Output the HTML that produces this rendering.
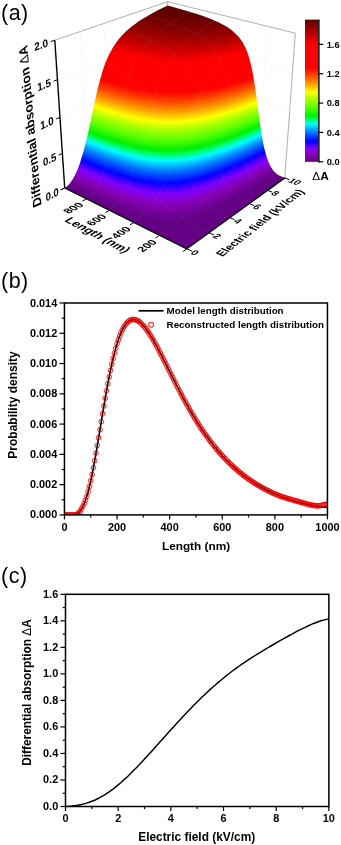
<!DOCTYPE html>
<html><head><meta charset="utf-8"><title>Figure</title>
<style>html,body{margin:0;padding:0;background:#fff;}body{width:341px;height:845px;overflow:hidden;}svg{display:block;}svg text{font-family:"Liberation Sans",Arial,sans-serif;}</style>
</head><body>
<svg width="341" height="845" viewBox="0 0 341 845">
<rect width="341" height="845" fill="#fff"/>
<text x="1.0" y="20.1" font-size="21.5" letter-spacing="0.5" >(a)</text>
<text x="1.0" y="288.2" font-size="21.5" letter-spacing="0.5" >(b)</text>
<text x="1.0" y="583.0" font-size="21.5" letter-spacing="0.5" >(c)</text>
<path d="M54.8 40.2L167.7 1.7" stroke="#8c8c8c" stroke-width="0.7" fill="none"/>
<path d="M167.7 1.7L295.3 33.2" stroke="#8c8c8c" stroke-width="0.7" fill="none"/>
<path d="M295.3 33.2L284.8 177.9" stroke="#8c8c8c" stroke-width="0.7" fill="none"/>
<path d="M167.7 1.7L167.7 15.7" stroke="#8c8c8c" stroke-width="0.7" fill="none"/>
<path d="M62.4 153.4L167.8 101.9L287.2 144.1M60.0 117.3L167.8 69.8L289.8 108.7M57.4 79.7L167.7 36.4L292.5 71.8M87.7 175.5L80.3 31.5M259.1 168.0L267.1 26.3M109.5 163.9L104.1 23.4M234.7 158.6L240.3 19.7M130.0 153.0L126.6 15.7M211.4 149.6L214.9 13.4M149.4 142.6L147.7 8.5M189.1 141.0L190.7 7.4" stroke="#f3f3f3" stroke-width="0.6" fill="none"/>
<defs><mask id="smask" maskUnits="userSpaceOnUse" x="0" y="0" width="341" height="280"><path d="M186.9 248.8 L64.7 187.8 66.2 186.9 67.6 185.7 69.1 184.2 70.5 182.4 71.9 180.5 73.3 178.2 74.7 175.7 76.0 173.0 77.4 169.9 78.7 166.6 80.0 163.0 81.2 159.1 83.8 150.5 86.2 140.8 88.7 130.2 95.9 96.4 98.4 86.0 99.7 81.1 102.2 72.2 103.5 68.2 104.8 64.5 106.2 61.1 107.5 58.0 108.8 55.0 110.2 52.4 112.9 47.6 115.6 43.4 118.3 39.8 119.7 38.1 122.4 35.1 126.4 31.1 130.5 27.6 133.1 25.5 135.8 23.5 138.4 21.6 142.4 19.1 146.3 16.7 150.1 14.4 157.8 10.3 167.7 5.5 183.6 10.0 191.0 12.2 197.0 14.1 203.0 16.1 207.6 17.8 212.2 19.6 215.3 20.9 218.5 22.3 221.6 23.9 224.7 25.6 227.9 27.6 231.1 29.8 232.7 31.0 235.8 33.9 237.4 35.5 239.0 37.3 240.5 39.3 242.1 41.6 243.6 44.2 245.2 47.2 246.7 50.7 248.2 54.7 249.6 59.4 251.0 64.9 252.4 71.3 253.7 78.5 255.0 86.5 256.2 95.2 259.7 121.9 260.9 130.1 262.2 137.6 263.4 144.2 264.7 150.1 266.1 155.1 267.5 159.4 268.9 163.1 270.4 166.1 271.9 168.6 273.4 170.7 275.0 172.4 276.6 173.7 278.2 174.9 279.8 175.8 281.5 176.6 284.8 177.9Z" fill="#fff"/></mask></defs><g mask="url(#smask)">
<rect x="40" y="-10" width="270" height="270" fill="#630083"/>
<path d="M275.8 173.1 L255.3 185.9 238.6 195.7 225.3 202.9 217.5 206.9 211.8 209.6 202.4 213.5 195.5 216.0 191.9 217.1 188.1 218.1 184.3 218.9 180.3 219.6 176.3 220.1 172.3 220.3 168.3 220.4 164.2 220.2 160.2 219.8 156.3 219.2 152.5 218.4 145.2 216.6 135.1 213.4 123.2 208.8 110.6 203.4 93.0 195.3 69.2 184.0 29.2 184.0 29.2 -30.0 315.8 -30.0 315.8 173.1Z" fill="#6b008f"/>
<path d="M273.7 170.9 L255.8 181.6 240.4 190.4 232.5 194.6 225.9 198.0 218.4 201.6 213.0 204.0 207.2 206.4 201.0 208.8 194.3 210.9 190.8 211.9 183.5 213.5 179.8 214.1 176.0 214.6 172.1 214.9 168.2 215.0 164.4 214.9 160.5 214.6 153.1 213.7 149.5 213.0 142.6 211.3 133.0 208.4 121.8 204.2 107.6 198.4 91.4 191.1 71.1 181.6 31.1 181.6 31.1 -30.0 313.7 -30.0 313.7 170.9Z" fill="#73009b"/>
<path d="M272.2 169.0 L254.4 179.4 239.0 187.8 231.2 191.9 224.6 195.1 217.3 198.5 211.9 200.7 206.2 203.0 200.1 205.2 193.6 207.2 190.2 208.1 183.1 209.6 179.4 210.1 172.0 210.9 168.2 211.0 164.5 210.9 160.8 210.7 153.5 209.9 150.0 209.3 143.2 207.8 133.8 205.2 122.7 201.3 108.7 195.7 92.6 188.7 72.5 179.5 32.5 179.5 32.5 -30.0 312.2 -30.0 312.2 169.0Z" fill="#7b00a7"/>
<path d="M271.0 167.2 L254.5 176.7 239.8 184.6 225.9 191.5 213.8 196.8 208.3 199.0 202.5 201.1 193.0 204.0 186.2 205.6 182.7 206.2 175.5 207.2 171.9 207.5 164.6 207.6 160.9 207.4 153.8 206.7 150.3 206.2 143.7 204.8 134.4 202.3 123.4 198.7 109.6 193.3 93.7 186.5 73.7 177.5 33.7 177.5 33.7 -30.0 311.0 -30.0 311.0 167.2Z" fill="#8300b3"/>
<path d="M270.1 165.5 L253.6 174.8 238.9 182.5 225.1 189.2 213.1 194.3 207.7 196.4 201.9 198.4 192.5 201.1 185.9 202.6 182.4 203.2 175.4 204.2 171.8 204.4 164.6 204.6 161.0 204.4 154.0 203.8 150.6 203.3 144.1 202.0 137.9 200.5 132.1 198.8 121.5 195.3 108.3 190.2 93.1 183.7 74.8 175.5 34.8 175.5 34.8 -30.0 310.1 -30.0 310.1 165.5Z" fill="#8600c1"/>
<path d="M269.3 163.8 L252.8 172.9 238.1 180.5 224.4 187.0 212.4 192.0 207.1 193.9 201.4 195.9 192.1 198.5 185.6 199.9 182.2 200.5 175.2 201.4 171.7 201.6 164.7 201.8 161.2 201.7 154.3 201.1 150.9 200.6 144.4 199.4 138.3 198.0 132.5 196.4 122.1 193.0 109.0 188.0 93.9 181.7 75.7 173.6 35.7 173.6 35.7 -30.0 309.3 -30.0 309.3 163.8Z" fill="#8500d2"/>
<path d="M268.6 162.2 L252.1 171.2 237.5 178.6 223.8 184.9 211.9 189.7 206.6 191.6 200.9 193.5 191.8 196.0 185.3 197.4 182.0 197.9 175.1 198.8 171.7 199.0 164.7 199.2 161.2 199.1 154.4 198.5 151.1 198.1 144.7 196.9 138.7 195.6 133.0 194.0 122.6 190.8 109.6 185.9 94.6 179.8 76.5 171.8 36.5 171.8 36.5 -30.0 308.6 -30.0 308.6 162.2Z" fill="#8300e2"/>
<path d="M267.9 160.6 L251.5 169.4 236.9 176.7 229.5 180.2 223.3 182.9 211.4 187.6 206.2 189.4 200.6 191.2 191.5 193.6 185.1 194.9 181.8 195.5 175.0 196.3 171.6 196.5 164.7 196.7 161.3 196.6 154.6 196.1 151.3 195.6 145.0 194.6 139.0 193.3 133.4 191.8 123.1 188.6 110.2 183.9 95.3 177.8 77.3 170.0 37.3 170.0 37.3 -30.0 307.9 -30.0 307.9 160.6Z" fill="#8100f3"/>
<path d="M267.4 159.0 L252.2 167.1 238.0 174.1 224.9 180.0 213.5 184.6 203.0 188.2 197.3 189.8 191.2 191.4 184.9 192.6 181.6 193.2 174.9 193.9 171.6 194.2 164.8 194.3 161.4 194.2 154.8 193.7 151.5 193.3 145.3 192.3 139.3 191.0 133.7 189.6 123.6 186.5 110.7 181.9 95.9 175.9 78.0 168.3 38.0 168.3 38.0 -30.0 307.4 -30.0 307.4 159.0Z" fill="#7900ff"/>
<path d="M266.8 157.5 L251.6 165.5 237.5 172.3 224.5 178.1 213.1 182.6 202.7 186.1 197.0 187.7 191.0 189.2 184.7 190.4 181.5 190.9 174.9 191.6 171.5 191.9 164.8 192.0 161.5 191.9 154.9 191.4 151.7 191.1 145.5 190.1 139.6 188.8 134.1 187.4 124.0 184.4 111.2 179.9 96.5 174.1 78.7 166.5 38.7 166.5 38.7 -30.0 306.8 -30.0 306.8 157.5Z" fill="#5e00ff"/>
<path d="M266.3 156.0 L251.2 163.8 237.1 170.6 224.0 176.3 212.7 180.6 202.4 184.0 196.7 185.6 190.8 187.0 184.5 188.2 181.3 188.7 174.8 189.4 171.5 189.6 168.2 189.8 161.5 189.7 158.3 189.5 151.9 188.9 142.8 187.3 134.4 185.4 124.4 182.4 111.7 178.0 97.0 172.3 79.3 164.8 39.3 164.8 39.3 -30.0 306.3 -30.0 306.3 156.0Z" fill="#4300ff"/>
<path d="M265.9 154.4 L250.7 162.2 236.7 168.9 223.6 174.5 212.4 178.7 202.1 182.0 196.5 183.6 190.6 184.9 181.2 186.6 174.7 187.3 171.4 187.5 168.2 187.6 161.6 187.5 158.4 187.3 152.0 186.7 143.0 185.2 134.7 183.3 124.7 180.4 112.1 176.1 97.5 170.5 79.9 163.1 39.9 163.1 39.9 -30.0 305.9 -30.0 305.9 154.4Z" fill="#2800ff"/>
<path d="M265.5 152.9 L250.3 160.6 236.3 167.2 223.3 172.7 212.1 176.8 201.8 180.1 196.2 181.6 190.4 182.9 181.1 184.5 174.7 185.1 171.4 185.3 168.2 185.5 161.7 185.4 158.5 185.2 152.2 184.6 143.2 183.2 137.6 181.9 132.4 180.6 122.8 177.8 110.7 173.6 96.7 168.1 80.5 161.4 40.5 161.4 40.5 -30.0 305.5 -30.0 305.5 152.9Z" fill="#0d00ff"/>
<path d="M265.1 151.4 L249.9 159.0 235.9 165.5 222.9 170.9 211.8 175.0 201.6 178.1 196.0 179.6 190.2 180.9 181.0 182.4 174.6 183.1 171.4 183.3 168.1 183.4 161.7 183.3 158.5 183.1 152.3 182.5 143.4 181.1 137.9 179.9 132.6 178.6 123.1 175.9 111.1 171.7 97.2 166.4 81.0 159.7 41.0 159.7 41.0 -30.0 305.1 -30.0 305.1 151.4Z" fill="#000aff"/>
<path d="M264.7 149.9 L249.5 157.4 235.6 163.8 222.6 169.1 211.5 173.1 201.3 176.2 195.8 177.7 190.0 178.9 180.9 180.4 174.5 181.0 171.3 181.2 168.1 181.3 161.8 181.3 158.6 181.1 152.4 180.5 143.6 179.1 138.1 178.0 132.9 176.7 123.5 174.0 111.4 169.9 97.6 164.6 81.6 158.1 41.6 158.1 41.6 -30.0 304.7 -30.0 304.7 149.9Z" fill="#001eff"/>
<path d="M264.3 148.4 L249.2 155.8 235.2 162.1 222.3 167.4 211.2 171.3 201.1 174.4 195.6 175.7 189.8 177.0 180.8 178.4 174.5 179.0 171.3 179.2 168.1 179.3 161.8 179.2 158.7 179.1 152.6 178.5 143.8 177.2 138.3 176.0 133.2 174.8 123.8 172.1 111.8 168.1 98.0 162.9 82.1 156.4 42.1 156.4 42.1 -30.0 304.3 -30.0 304.3 148.4Z" fill="#0031ff"/>
<path d="M264.0 146.9 L248.9 154.3 234.9 160.5 222.0 165.7 211.0 169.5 200.9 172.5 195.4 173.9 189.7 175.1 180.7 176.5 174.4 177.0 171.3 177.2 168.1 177.3 161.9 177.2 158.8 177.1 152.7 176.5 144.0 175.2 138.5 174.1 133.4 172.9 124.1 170.2 112.2 166.3 98.5 161.2 82.6 154.8 42.6 154.8 42.6 -30.0 304.0 -30.0 304.0 146.9Z" fill="#0045ff"/>
<path d="M263.7 145.4 L248.6 152.7 234.6 158.9 221.7 163.9 210.7 167.7 200.7 170.7 195.2 172.0 189.5 173.2 180.6 174.5 171.3 175.3 168.1 175.4 161.9 175.3 152.8 174.6 144.2 173.3 138.8 172.2 133.6 171.0 124.3 168.4 112.5 164.5 98.9 159.5 83.0 153.1 43.0 153.1 43.0 -30.0 303.7 -30.0 303.7 145.4Z" fill="#0059ff"/>
<path d="M263.4 143.9 L249.4 150.6 235.9 156.6 223.5 161.5 212.8 165.2 203.1 168.2 197.8 169.5 192.3 170.7 186.5 171.8 180.5 172.6 171.2 173.3 168.1 173.4 161.9 173.3 152.9 172.6 144.3 171.4 138.9 170.3 133.9 169.1 124.6 166.6 112.8 162.7 99.3 157.8 83.5 151.5 43.5 151.5 43.5 -30.0 303.4 -30.0 303.4 143.9Z" fill="#006cff"/>
<path d="M263.1 142.4 L249.1 149.1 235.6 154.9 223.2 159.8 212.6 163.5 202.9 166.4 197.6 167.7 192.1 168.9 186.3 169.9 180.4 170.7 171.2 171.4 162.0 171.4 153.0 170.7 144.5 169.5 139.1 168.4 134.1 167.3 122.8 164.1 111.4 160.4 98.4 155.6 83.9 149.9 43.9 149.9 43.9 -30.0 303.1 -30.0 303.1 142.4Z" fill="#0080ff"/>
<path d="M262.8 141.0 L248.8 147.5 235.4 153.3 223.0 158.2 212.4 161.8 202.7 164.6 197.4 165.9 192.0 167.0 186.2 168.0 180.3 168.8 171.2 169.5 162.0 169.5 153.1 168.8 144.6 167.6 139.3 166.6 134.3 165.4 123.0 162.3 111.8 158.6 98.8 153.9 84.4 148.3 44.4 148.3 44.4 -30.0 302.8 -30.0 302.8 141.0Z" fill="#0098ff"/>
<path d="M262.5 139.5 L248.5 146.0 235.1 151.7 222.7 156.5 212.1 160.0 202.5 162.8 197.3 164.1 191.8 165.2 186.1 166.2 180.2 167.0 171.2 167.6 162.1 167.6 153.2 166.9 144.8 165.7 139.5 164.7 134.5 163.6 123.3 160.5 112.1 156.9 99.1 152.2 84.8 146.7 44.8 146.7 44.8 -30.0 302.5 -30.0 302.5 139.5Z" fill="#00b0ff"/>
<path d="M262.2 138.0 L248.3 144.4 234.9 150.1 222.5 154.8 211.9 158.3 202.3 161.0 197.1 162.3 191.7 163.4 186.0 164.4 180.1 165.1 171.1 165.7 162.1 165.7 153.3 165.1 144.9 163.9 139.7 162.9 134.7 161.8 123.6 158.8 112.4 155.2 99.5 150.6 85.2 145.0 45.2 145.0 45.2 -30.0 302.2 -30.0 302.2 138.0Z" fill="#00c9ff"/>
<path d="M262.0 136.5 L248.0 142.9 234.6 148.5 222.3 153.2 211.7 156.6 202.1 159.3 197.0 160.5 191.5 161.6 185.9 162.5 180.1 163.3 171.1 163.9 162.1 163.8 153.4 163.2 145.1 162.0 139.8 161.0 134.9 159.9 123.8 157.0 112.7 153.5 99.8 148.9 85.6 143.4 45.6 143.4 45.6 -30.0 302.0 -30.0 302.0 136.5Z" fill="#00e1ff"/>
<path d="M261.7 135.1 L247.8 141.4 234.4 146.9 222.0 151.5 211.5 154.9 202.0 157.5 196.8 158.7 191.4 159.8 185.8 160.7 180.0 161.4 171.1 162.0 162.2 162.0 153.4 161.3 145.2 160.2 140.0 159.2 135.1 158.1 124.1 155.2 113.0 151.7 100.2 147.3 86.0 141.8 46.0 141.8 46.0 -30.0 301.7 -30.0 301.7 135.1Z" fill="#00f9ff"/>
<path d="M261.5 133.6 L247.5 139.9 234.1 145.4 221.8 149.9 211.3 153.2 201.8 155.8 196.7 157.0 191.3 158.0 185.7 158.9 179.9 159.6 171.1 160.2 162.2 160.1 153.5 159.5 145.3 158.4 135.3 156.3 124.3 153.5 113.3 150.0 100.5 145.6 86.4 140.2 46.4 140.2 46.4 -30.0 301.5 -30.0 301.5 133.6Z" fill="#00ffda"/>
<path d="M261.3 132.1 L247.3 138.3 233.9 143.8 221.6 148.2 211.1 151.6 201.6 154.1 196.5 155.2 191.2 156.3 185.6 157.1 179.9 157.8 171.1 158.4 162.2 158.3 153.6 157.7 145.5 156.5 135.5 154.6 124.5 151.7 113.5 148.3 100.9 143.9 86.7 138.6 46.7 138.6 46.7 -30.0 301.3 -30.0 301.3 132.1Z" fill="#00ffa8"/>
<path d="M261.0 130.7 L247.1 136.8 233.7 142.2 221.4 146.6 211.0 149.9 201.5 152.4 196.4 153.5 191.0 154.5 185.5 155.4 179.8 156.0 171.0 156.5 162.2 156.5 153.7 155.8 145.6 154.7 135.6 152.8 124.8 150.0 113.8 146.6 101.2 142.3 87.1 137.0 47.1 137.0 47.1 -30.0 301.0 -30.0 301.0 130.7Z" fill="#00fe78"/>
<path d="M260.8 129.2 L246.8 135.3 233.5 140.6 221.2 145.0 210.8 148.2 201.3 150.6 196.2 151.7 190.9 152.7 185.4 153.6 179.7 154.2 171.0 154.7 162.3 154.7 153.8 154.0 145.7 152.9 135.8 151.0 125.0 148.2 114.1 144.9 101.5 140.6 87.5 135.4 47.5 135.4 47.5 -30.0 300.8 -30.0 300.8 129.2Z" fill="#00f950"/>
<path d="M260.6 127.7 L246.6 133.8 233.3 139.0 221.0 143.4 210.6 146.5 201.2 148.9 196.1 150.0 190.8 151.0 185.3 151.8 179.7 152.4 171.0 152.9 162.3 152.8 153.9 152.2 145.8 151.1 136.0 149.2 125.2 146.5 114.3 143.2 101.8 139.0 87.8 133.9 47.8 133.9 47.8 -30.0 300.6 -30.0 300.6 127.7Z" fill="#00f528"/>
<path d="M260.4 126.2 L246.4 132.2 233.1 137.5 220.8 141.7 210.4 144.8 201.0 147.2 190.7 149.2 185.2 150.0 179.6 150.6 171.0 151.1 162.3 151.0 153.9 150.4 145.9 149.3 136.2 147.5 125.4 144.8 114.6 141.6 102.1 137.4 88.2 132.3 48.2 132.3 48.2 -30.0 300.4 -30.0 300.4 126.2Z" fill="#00f000"/>
<path d="M260.1 124.8 L246.2 130.7 232.9 135.9 220.6 140.1 210.3 143.2 200.9 145.5 190.6 147.5 185.1 148.3 179.5 148.9 171.0 149.3 162.4 149.2 154.0 148.6 146.1 147.6 136.3 145.7 125.6 143.1 114.9 139.9 102.4 135.7 88.5 130.7 48.5 130.7 48.5 -30.0 300.1 -30.0 300.1 124.8Z" fill="#10f300"/>
<path d="M259.9 123.3 L246.0 129.2 232.7 134.3 220.5 138.5 210.1 141.5 200.7 143.8 190.5 145.7 185.1 146.5 179.5 147.1 170.9 147.5 162.4 147.4 154.1 146.8 148.8 146.2 143.7 145.4 134.2 143.4 123.9 140.8 113.5 137.7 101.6 133.7 88.9 129.1 48.9 129.1 48.9 -30.0 299.9 -30.0 299.9 123.3Z" fill="#20f600"/>
<path d="M259.7 121.8 L245.8 127.7 232.5 132.7 220.3 136.9 209.9 139.9 200.6 142.1 190.4 144.0 185.0 144.8 179.4 145.3 170.9 145.7 162.4 145.6 154.1 145.0 148.9 144.4 143.8 143.6 134.4 141.7 124.1 139.1 113.8 136.0 101.9 132.0 89.2 127.5 49.2 127.5 49.2 -30.0 299.7 -30.0 299.7 121.8Z" fill="#30f900"/>
<path d="M259.5 120.4 L245.6 126.2 232.3 131.2 220.1 135.2 209.8 138.2 200.5 140.4 190.3 142.3 184.9 143.0 179.4 143.5 170.9 144.0 162.4 143.8 154.2 143.2 149.0 142.6 143.9 141.8 134.6 139.9 124.4 137.4 114.1 134.3 102.2 130.4 89.6 125.9 49.6 125.9 49.6 -30.0 299.5 -30.0 299.5 120.4Z" fill="#40fc00"/>
<path d="M259.3 118.9 L246.5 124.2 233.6 129.1 221.8 133.0 209.6 136.5 200.3 138.7 190.2 140.5 184.8 141.3 179.3 141.8 170.9 142.2 162.5 142.1 154.3 141.5 149.1 140.8 144.0 140.0 134.8 138.2 124.6 135.7 114.3 132.6 102.5 128.8 89.9 124.3 49.9 124.3 49.9 -30.0 299.3 -30.0 299.3 118.9Z" fill="#50ff00"/>
<path d="M259.1 117.4 L246.3 122.7 233.4 127.5 221.6 131.4 209.4 134.9 200.2 137.0 190.1 138.8 184.7 139.5 179.2 140.0 170.9 140.4 162.5 140.3 154.4 139.7 149.2 139.0 144.2 138.3 134.9 136.5 124.8 133.9 114.6 131.0 102.8 127.1 90.3 122.7 50.3 122.7 50.3 -30.0 299.1 -30.0 299.1 117.4Z" fill="#5fff00"/>
<path d="M258.9 115.9 L246.1 121.2 233.2 125.9 221.4 129.8 211.5 132.7 202.4 134.8 192.6 136.7 187.3 137.4 181.9 138.0 173.6 138.6 165.3 138.6 157.1 138.1 151.8 137.6 146.7 136.9 137.3 135.2 126.9 132.7 116.4 129.8 104.2 125.9 90.6 121.2 50.6 121.2 50.6 -30.0 298.9 -30.0 298.9 115.9Z" fill="#6dff00"/>
<path d="M258.7 114.5 L245.9 119.6 233.0 124.4 221.3 128.2 211.3 131.0 202.3 133.1 192.5 135.0 187.2 135.7 181.9 136.3 173.6 136.8 165.3 136.8 157.1 136.4 151.9 135.8 146.8 135.1 137.4 133.4 127.1 131.0 116.6 128.1 104.5 124.3 90.9 119.6 50.9 119.6 50.9 -30.0 298.7 -30.0 298.7 114.5Z" fill="#7cff00"/>
<path d="M258.5 113.0 L245.7 118.1 232.8 122.8 221.1 126.6 211.1 129.4 202.2 131.4 192.3 133.2 187.1 134.0 181.8 134.5 173.6 135.0 165.3 135.0 157.2 134.6 152.0 134.1 147.0 133.4 137.6 131.7 127.3 129.3 116.9 126.4 104.8 122.6 91.3 118.0 51.3 118.0 51.3 -30.0 298.5 -30.0 298.5 113.0Z" fill="#8aff00"/>
<path d="M258.3 111.5 L245.5 116.6 232.7 121.2 220.9 125.0 211.0 127.7 202.0 129.8 192.2 131.5 187.1 132.2 181.7 132.8 173.5 133.3 165.3 133.3 157.3 132.8 152.1 132.3 147.1 131.6 137.8 130.0 127.5 127.6 117.1 124.7 105.1 121.0 91.6 116.4 51.6 116.4 51.6 -30.0 298.3 -30.0 298.3 111.5Z" fill="#99ff00"/>
<path d="M258.1 110.0 L245.3 115.1 232.5 119.7 220.7 123.4 210.8 126.1 201.9 128.1 192.1 129.8 187.0 130.5 181.7 131.0 173.5 131.5 165.3 131.5 157.3 131.1 152.1 130.5 147.2 129.9 137.9 128.2 127.7 125.9 117.4 123.1 105.4 119.3 91.9 114.8 51.9 114.8 51.9 -30.0 298.1 -30.0 298.1 110.0Z" fill="#a7ff00"/>
<path d="M257.9 108.6 L245.1 113.6 232.3 118.1 220.6 121.7 210.7 124.4 201.8 126.4 192.0 128.1 186.9 128.8 181.6 129.3 173.5 129.7 165.3 129.7 157.4 129.3 152.2 128.8 147.3 128.1 138.1 126.5 127.9 124.2 117.6 121.4 105.6 117.7 92.3 113.2 52.3 113.2 52.3 -30.0 297.9 -30.0 297.9 108.6Z" fill="#b8ff00"/>
<path d="M257.7 107.1 L244.9 112.0 233.6 116.0 222.2 119.6 212.6 122.2 201.6 124.7 191.9 126.4 186.8 127.0 181.5 127.6 173.5 128.0 165.3 128.0 157.4 127.5 152.3 127.0 147.4 126.3 138.2 124.7 128.1 122.5 117.8 119.7 105.9 116.1 92.6 111.6 52.6 111.6 52.6 -30.0 297.7 -30.0 297.7 107.1Z" fill="#caff00"/>
<path d="M257.6 105.6 L244.7 110.5 233.4 114.5 222.0 118.0 212.4 120.6 201.5 123.0 191.8 124.7 186.7 125.3 181.5 125.8 173.4 126.2 165.4 126.2 157.5 125.7 147.5 124.6 138.4 123.0 128.3 120.7 118.1 118.0 106.2 114.4 93.0 110.0 53.0 110.0 53.0 -30.0 297.6 -30.0 297.6 105.6Z" fill="#dcff00"/>
<path d="M257.4 104.1 L244.5 109.0 233.2 112.9 221.9 116.4 212.3 118.9 201.3 121.3 191.7 123.0 186.6 123.6 181.4 124.1 173.4 124.5 165.4 124.4 157.5 124.0 147.6 122.8 138.5 121.3 128.5 119.0 118.3 116.3 106.5 112.8 93.3 108.4 53.3 108.4 53.3 -30.0 297.4 -30.0 297.4 104.1Z" fill="#edff00"/>
<path d="M257.2 102.6 L244.3 107.4 233.0 111.3 221.7 114.8 212.1 117.3 201.2 119.7 191.6 121.2 186.5 121.8 181.3 122.3 173.4 122.7 165.4 122.6 157.6 122.2 147.7 121.1 138.7 119.5 128.7 117.3 118.6 114.6 106.8 111.1 93.6 106.8 53.6 106.8 53.6 -30.0 297.2 -30.0 297.2 102.6Z" fill="#ffff00"/>
<path d="M257.0 101.1 L244.1 105.9 232.8 109.7 221.5 113.2 211.9 115.6 201.1 118.0 191.5 119.5 181.2 120.6 173.3 120.9 165.4 120.9 157.6 120.4 147.8 119.3 138.8 117.8 128.9 115.6 118.8 113.0 107.1 109.5 94.0 105.2 54.0 105.2 54.0 -30.0 297.0 -30.0 297.0 101.1Z" fill="#ffed00"/>
<path d="M256.8 99.6 L243.9 104.4 232.6 108.2 221.3 111.5 211.8 114.0 200.9 116.3 191.4 117.8 181.2 118.8 173.3 119.2 165.4 119.1 157.7 118.6 147.9 117.5 139.0 116.0 129.1 113.9 119.1 111.3 107.4 107.8 94.3 103.6 54.3 103.6 54.3 -30.0 296.8 -30.0 296.8 99.6Z" fill="#ffdc00"/>
<path d="M256.6 98.1 L243.7 102.8 232.4 106.6 221.1 109.9 211.6 112.3 200.8 114.6 191.3 116.1 181.1 117.1 173.3 117.4 165.4 117.3 157.7 116.9 148.0 115.8 139.1 114.3 129.3 112.1 119.3 109.6 107.7 106.2 94.7 102.0 54.7 102.0 54.7 -30.0 296.6 -30.0 296.6 98.1Z" fill="#ffca00"/>
<path d="M256.4 96.6 L243.5 101.3 232.2 105.0 221.0 108.3 211.4 110.7 200.6 112.9 191.1 114.3 181.0 115.3 173.2 115.6 165.4 115.6 157.8 115.1 148.1 114.0 139.3 112.5 129.5 110.4 119.6 107.9 108.0 104.5 95.0 100.4 55.0 100.4 55.0 -30.0 296.4 -30.0 296.4 96.6Z" fill="#ffb900"/>
<path d="M256.2 95.1 L243.3 99.8 232.1 103.4 220.8 106.7 211.3 109.0 200.5 111.2 191.0 112.6 181.0 113.6 173.2 113.9 165.4 113.8 157.8 113.3 148.2 112.2 139.5 110.8 129.7 108.7 119.8 106.2 108.3 102.9 95.4 98.8 55.4 98.8 55.4 -30.0 296.2 -30.0 296.2 95.1Z" fill="#ffa700"/>
<path d="M256.0 93.6 L243.1 98.2 231.9 101.8 220.6 105.1 211.1 107.4 200.4 109.5 190.9 110.9 180.9 111.8 173.2 112.1 165.4 112.0 157.9 111.5 148.4 110.5 139.6 109.0 129.9 107.0 120.1 104.5 108.6 101.2 95.7 97.2 55.7 97.2 55.7 -30.0 296.0 -30.0 296.0 93.6Z" fill="#ff9600"/>
<path d="M255.8 92.1 L242.9 96.7 231.7 100.3 220.4 103.4 210.9 105.7 200.2 107.8 190.8 109.2 180.8 110.0 173.1 110.3 165.5 110.2 158.0 109.8 148.5 108.7 139.8 107.3 130.1 105.2 120.4 102.8 108.9 99.6 96.1 95.6 56.1 95.6 56.1 -30.0 295.8 -30.0 295.8 92.1Z" fill="#ff8700"/>
<path d="M255.5 90.6 L242.7 95.1 231.5 98.7 220.2 101.8 210.7 104.0 200.1 106.1 190.7 107.4 180.8 108.3 173.1 108.5 165.5 108.4 158.0 108.0 148.6 106.9 139.9 105.5 130.4 103.5 120.6 101.1 109.2 97.9 96.5 94.0 56.5 94.0 56.5 -30.0 295.5 -30.0 295.5 90.6Z" fill="#ff7700"/>
<path d="M255.3 89.1 L242.5 93.6 231.2 97.1 220.0 100.2 210.6 102.4 199.9 104.4 190.6 105.7 180.7 106.5 173.1 106.8 165.5 106.6 158.1 106.2 148.7 105.1 140.1 103.7 130.6 101.8 120.9 99.4 109.6 96.2 96.9 92.3 56.9 92.3 56.9 -30.0 295.3 -30.0 295.3 89.1Z" fill="#ff6800"/>
<path d="M255.1 87.6 L243.3 91.7 232.5 95.1 221.6 98.1 212.4 100.3 202.0 102.3 192.8 103.7 183.1 104.6 175.6 104.9 168.0 104.9 158.1 104.4 148.8 103.3 140.3 102.0 130.8 100.0 121.2 97.7 109.9 94.6 97.2 90.7 57.2 90.7 57.2 -30.0 295.1 -30.0 295.1 87.6Z" fill="#ff5800"/>
<path d="M254.9 86.1 L243.1 90.1 232.2 93.5 221.3 96.4 212.2 98.6 201.8 100.6 192.7 101.9 183.0 102.8 175.5 103.2 168.0 103.1 158.2 102.6 148.9 101.6 140.4 100.2 131.0 98.3 121.4 96.0 110.2 92.9 97.6 89.1 57.6 89.1 57.6 -30.0 294.9 -30.0 294.9 86.1Z" fill="#ff4900"/>
<path d="M254.7 84.6 L242.9 88.6 232.0 91.9 221.1 94.8 212.0 96.9 201.7 98.9 192.6 100.2 182.9 101.1 175.5 101.4 168.0 101.3 158.2 100.8 149.0 99.8 140.6 98.4 131.3 96.5 121.7 94.2 110.6 91.2 98.0 87.5 58.0 87.5 58.0 -30.0 294.7 -30.0 294.7 84.6Z" fill="#ff3b00"/>
<path d="M254.4 83.1 L242.6 87.0 231.8 90.3 220.9 93.2 211.8 95.3 201.5 97.2 192.4 98.4 182.8 99.3 175.4 99.6 168.0 99.5 158.3 99.0 149.2 98.0 140.8 96.6 131.5 94.8 122.0 92.5 110.9 89.5 98.4 85.8 58.4 85.8 58.4 -30.0 294.4 -30.0 294.4 83.1Z" fill="#ff2e00"/>
<path d="M254.2 81.5 L242.4 85.4 231.6 88.7 220.7 91.5 211.6 93.6 201.3 95.5 192.3 96.7 182.8 97.5 175.4 97.8 168.0 97.7 158.4 97.2 149.3 96.2 141.0 94.9 131.7 93.0 122.3 90.8 111.3 87.8 98.9 84.2 58.9 84.2 58.9 -30.0 294.2 -30.0 294.2 81.5Z" fill="#ff2100"/>
<path d="M253.9 80.0 L242.1 83.9 231.3 87.1 220.5 89.9 211.4 91.9 201.1 93.7 192.2 94.9 182.7 95.7 175.3 96.0 168.0 95.9 158.4 95.4 149.4 94.4 141.2 93.1 132.0 91.2 122.6 89.1 111.6 86.1 99.3 82.5 59.3 82.5 59.3 -30.0 293.9 -30.0 293.9 80.0Z" fill="#ff1400"/>
<path d="M253.7 78.5 L241.9 82.3 231.1 85.4 220.3 88.2 211.2 90.2 201.0 92.0 192.0 93.2 182.6 93.9 175.3 94.2 168.0 94.1 158.5 93.5 149.6 92.5 141.4 91.3 132.2 89.5 122.9 87.3 112.0 84.4 99.7 80.9 59.7 80.9 59.7 -30.0 293.7 -30.0 293.7 78.5Z" fill="#ff0700"/>
<path d="M253.4 76.9 L241.6 80.7 230.8 83.8 220.0 86.5 211.0 88.5 200.8 90.3 191.9 91.4 182.5 92.1 175.2 92.3 168.0 92.3 158.6 91.7 149.7 90.7 141.5 89.5 132.5 87.7 123.2 85.6 112.4 82.7 100.2 79.2 60.2 79.2 60.2 -30.0 293.4 -30.0 293.4 76.9Z" fill="#ff0000"/>
<path d="M253.2 75.4 L241.4 79.1 230.6 82.2 219.8 84.9 210.7 86.8 200.6 88.5 191.7 89.6 182.4 90.3 175.2 90.5 168.0 90.4 158.6 89.9 149.8 88.9 141.7 87.6 132.8 85.9 123.6 83.8 112.8 81.0 100.6 77.6 60.6 77.6 60.6 -30.0 293.2 -30.0 293.2 75.4Z" fill="#ff0000"/>
<path d="M252.9 73.8 L241.1 77.5 230.3 80.6 219.5 83.2 210.5 85.1 200.4 86.8 191.6 87.8 182.3 88.5 175.1 88.7 168.0 88.6 158.7 88.0 150.0 87.1 142.0 85.8 133.0 84.1 123.9 82.0 113.2 79.3 101.1 75.9 61.1 75.9 61.1 -30.0 292.9 -30.0 292.9 73.8Z" fill="#ff0000"/>
<path d="M252.6 72.3 L240.8 75.9 230.0 78.9 219.3 81.5 210.3 83.4 200.2 85.0 191.4 86.0 182.2 86.7 175.1 86.9 168.0 86.7 158.8 86.2 150.1 85.2 142.2 84.0 133.3 82.3 122.9 80.0 112.7 77.3 101.6 74.2 61.6 74.2 61.6 -30.0 292.6 -30.0 292.6 72.3Z" fill="#ff0000"/>
<path d="M252.3 70.7 L241.5 74.0 231.1 76.9 220.7 79.5 211.9 81.3 202.1 82.9 193.5 84.0 184.4 84.7 177.3 85.0 170.3 84.9 161.1 84.5 152.3 83.6 144.3 82.5 135.3 80.8 124.6 78.5 114.1 75.8 102.1 72.5 62.1 72.5 62.1 -30.0 292.3 -30.0 292.3 70.7Z" fill="#ff0000"/>
<path d="M252.0 69.2 L241.2 72.4 230.8 75.3 220.4 77.8 211.6 79.5 201.8 81.2 193.3 82.2 184.2 82.9 177.3 83.1 170.3 83.1 161.1 82.6 152.5 81.8 144.5 80.6 135.6 79.0 125.0 76.7 114.5 74.1 102.7 70.8 62.7 70.8 62.7 -30.0 292.0 -30.0 292.0 69.2Z" fill="#ff0000"/>
<path d="M251.6 67.6 L240.8 70.8 230.5 73.6 220.1 76.1 211.4 77.8 201.6 79.4 193.1 80.4 184.1 81.0 177.2 81.3 170.2 81.2 161.2 80.7 152.6 79.9 142.8 78.4 134.2 76.8 124.1 74.6 114.0 72.1 103.2 69.1 63.2 69.1 63.2 -30.0 291.6 -30.0 291.6 67.6Z" fill="#ff0000"/>
<path d="M251.3 66.0 L240.5 69.2 230.1 72.0 219.8 74.4 211.1 76.1 201.3 77.6 192.9 78.6 184.0 79.2 177.1 79.4 170.2 79.3 161.3 78.8 152.8 78.0 143.1 76.6 134.5 75.0 124.5 72.8 114.5 70.3 103.8 67.4 63.8 67.4 63.8 -30.0 291.3 -30.0 291.3 66.0Z" fill="#ff0000"/>
<path d="M250.9 64.5 L240.1 67.6 229.8 70.3 219.4 72.6 210.8 74.3 201.1 75.8 192.7 76.7 183.8 77.3 177.0 77.5 170.2 77.4 161.3 76.9 152.9 76.1 143.3 74.7 134.9 73.1 124.9 71.0 115.1 68.6 104.4 65.7 64.4 65.7 64.4 -30.0 290.9 -30.0 290.9 64.5Z" fill="#ff0000"/>
<path d="M250.5 62.9 L239.8 66.0 229.4 68.6 219.1 70.9 210.5 72.5 200.8 74.0 192.5 74.9 183.7 75.4 176.9 75.6 170.2 75.5 161.4 75.0 153.1 74.1 143.6 72.8 135.2 71.3 125.4 69.1 115.6 66.8 105.1 64.0 65.1 64.0 65.1 -30.0 290.5 -30.0 290.5 62.9Z" fill="#ff0000"/>
<path d="M250.1 61.3 L239.4 64.3 229.0 66.9 218.7 69.2 210.1 70.8 200.5 72.1 192.2 73.0 183.5 73.5 176.8 73.6 170.1 73.5 161.5 73.0 153.3 72.2 143.9 70.9 135.6 69.4 125.8 67.3 116.2 65.0 105.7 62.2 65.7 62.2 65.7 -30.0 290.1 -30.0 290.1 61.3Z" fill="#ff0000"/>
<path d="M249.7 59.7 L239.9 62.4 229.9 64.9 219.9 67.1 211.6 68.7 202.2 70.0 194.1 70.9 185.5 71.5 176.7 71.7 170.1 71.6 161.5 71.1 153.4 70.3 144.2 68.9 136.0 67.5 126.3 65.4 116.8 63.1 106.4 60.4 66.4 60.4 66.4 -30.0 289.7 -30.0 289.7 59.7Z" fill="#ff0000"/>
<path d="M249.2 58.1 L239.4 60.8 229.5 63.2 219.5 65.4 211.2 66.9 201.9 68.2 193.8 69.0 185.3 69.6 178.8 69.7 172.2 69.7 163.7 69.2 155.6 68.5 146.2 67.3 138.0 65.8 128.1 63.8 118.3 61.5 107.2 58.7 67.2 58.7 67.2 -30.0 289.2 -30.0 289.2 58.1Z" fill="#ff0000"/>
<path d="M248.7 56.5 L238.9 59.1 229.0 61.5 219.1 63.6 210.8 65.0 201.5 66.3 193.5 67.1 185.1 67.6 178.6 67.7 172.2 67.7 163.7 67.2 155.7 66.5 146.5 65.3 138.4 63.9 128.7 61.9 119.0 59.7 108.0 56.9 68.0 56.9 68.0 -30.0 288.7 -30.0 288.7 56.5Z" fill="#ff0000"/>
<path d="M248.2 54.8 L238.4 57.4 228.5 59.8 218.6 61.8 210.3 63.2 201.1 64.4 193.2 65.2 184.9 65.6 178.5 65.7 172.1 65.6 163.8 65.2 155.9 64.5 146.9 63.3 138.8 61.9 129.2 60.0 119.7 57.8 108.8 55.1 68.8 55.1 68.8 -30.0 288.2 -30.0 288.2 54.8Z" fill="#ff0000"/>
<path d="M247.6 53.2 L237.9 55.7 229.2 57.7 219.6 59.7 211.6 61.1 202.6 62.3 194.9 63.0 186.7 63.5 178.3 63.7 172.0 63.6 163.9 63.1 156.1 62.4 147.2 61.2 139.3 59.9 129.9 58.0 120.5 55.9 109.7 53.2 69.7 53.2 69.7 -30.0 287.6 -30.0 287.6 53.2Z" fill="#ff0000"/>
<path d="M247.0 51.5 L237.3 54.0 228.7 56.0 219.1 57.9 211.1 59.2 202.2 60.3 194.5 61.1 186.4 61.5 178.2 61.6 172.0 61.5 163.9 61.0 156.3 60.3 147.6 59.2 139.8 57.9 130.5 56.0 121.3 54.0 110.7 51.4 70.7 51.4 70.7 -30.0 287.0 -30.0 287.0 51.5Z" fill="#fa0000"/>
<path d="M246.4 49.8 L236.6 52.3 228.0 54.2 218.5 56.0 210.5 57.3 201.7 58.4 194.1 59.0 186.1 59.4 180.0 59.5 171.9 59.4 164.0 58.9 156.5 58.2 148.0 57.0 140.3 55.8 131.2 54.0 122.1 52.0 111.7 49.5 71.7 49.5 71.7 -30.0 286.4 -30.0 286.4 49.8Z" fill="#f00000"/>
<path d="M245.6 48.2 L236.8 50.3 228.5 52.1 219.3 53.9 211.5 55.1 203.0 56.2 195.5 56.8 187.7 57.3 179.8 57.4 171.8 57.2 164.1 56.7 156.8 56.0 148.4 54.9 140.9 53.7 132.0 52.0 123.1 50.0 112.9 47.6 72.9 47.6 72.9 -30.0 285.6 -30.0 285.6 48.2Z" fill="#e70000"/>
<path d="M244.8 46.4 L236.0 48.5 227.7 50.3 218.5 52.0 210.9 53.1 202.3 54.1 195.0 54.7 187.3 55.1 179.5 55.2 171.7 55.0 164.2 54.5 157.0 53.8 148.8 52.7 141.6 51.5 132.9 49.9 124.1 48.0 114.1 45.6 74.1 45.6 74.1 -30.0 284.8 -30.0 284.8 46.4Z" fill="#dd0000"/>
<path d="M243.9 44.7 L235.1 46.7 226.9 48.4 219.1 49.8 211.7 50.9 203.4 51.9 196.3 52.5 188.8 52.9 181.1 53.0 173.5 52.8 166.1 52.4 159.0 51.7 150.9 50.7 142.3 49.3 133.8 47.7 125.2 45.9 115.4 43.6 75.4 43.6 75.4 -30.0 283.9 -30.0 283.9 44.7Z" fill="#d30000"/>
<path d="M242.9 43.0 L234.1 44.9 225.9 46.5 218.2 47.8 210.8 48.9 202.7 49.8 195.6 50.3 188.3 50.6 180.8 50.7 173.3 50.5 166.1 50.0 159.2 49.4 151.4 48.4 143.0 47.0 134.8 45.5 126.5 43.8 116.9 41.6 76.9 41.6 76.9 -30.0 282.9 -30.0 282.9 43.0Z" fill="#ca0000"/>
<path d="M241.8 41.2 L233.0 43.0 224.9 44.6 217.2 45.8 209.9 46.8 203.5 47.4 196.6 47.9 189.5 48.3 182.2 48.3 174.9 48.1 167.9 47.7 161.1 47.1 153.4 46.2 145.1 44.9 136.9 43.5 127.8 41.6 118.5 39.5 78.5 39.5 78.5 -30.0 281.8 -30.0 281.8 41.2Z" fill="#c00000"/>
<path d="M240.5 39.3 L232.6 41.0 224.8 42.4 217.4 43.5 210.3 44.4 202.5 45.2 195.8 45.6 188.8 45.9 181.7 45.9 174.7 45.6 167.9 45.2 161.4 44.6 153.9 43.7 146.0 42.5 138.1 41.1 129.3 39.3 120.3 37.3 80.3 37.3 80.3 -30.0 280.5 -30.0 280.5 39.3Z" fill="#b60000"/>
<path d="M239.1 37.4 L231.9 38.8 224.5 40.1 217.4 41.2 210.5 42.0 202.9 42.7 196.5 43.1 189.7 43.3 182.9 43.4 176.1 43.1 169.5 42.7 161.7 42.0 154.5 41.1 146.9 40.0 139.4 38.7 131.0 37.0 122.4 35.1 82.4 35.1 82.4 -30.0 279.1 -30.0 279.1 37.4Z" fill="#ad0000"/>
<path d="M237.4 35.5 L230.3 36.8 222.9 38.0 215.8 39.0 209.0 39.7 196.9 40.5 190.4 40.7 183.8 40.7 177.3 40.5 170.9 40.1 163.4 39.4 156.5 38.6 149.2 37.5 141.8 36.3 133.5 34.7 124.6 32.8 84.6 32.8 84.6 -30.0 277.4 -30.0 277.4 35.5Z" fill="#a30000"/>
<path d="M235.4 33.5 L222.0 35.7 215.2 36.5 208.7 37.1 197.0 37.9 190.8 38.0 184.5 38.0 178.3 37.7 170.7 37.3 163.7 36.6 157.2 35.8 143.4 33.6 127.2 30.4 87.2 30.4 87.2 -30.0 275.4 -30.0 275.4 33.5Z" fill="#990000"/>
<path d="M233.1 31.4 L220.7 33.2 214.2 33.9 208.0 34.5 196.8 35.0 184.9 35.0 179.0 34.8 171.9 34.3 159.1 32.9 145.2 30.8 130.1 27.9 90.1 27.9 90.1 -30.0 273.1 -30.0 273.1 31.4Z" fill="#8f0000"/>
<path d="M230.2 29.1 L218.9 30.6 208.0 31.5 197.5 32.0 186.3 31.9 174.1 31.3 162.1 30.0 148.8 28.1 133.5 25.2 93.5 25.2 93.5 -30.0 270.2 -30.0 270.2 29.1Z" fill="#860000"/>
<path d="M226.6 26.7 L216.3 27.8 205.9 28.5 196.0 28.7 186.9 28.6 175.7 27.9 163.7 26.6 151.1 24.8 137.5 22.3 97.5 22.3 97.5 -30.0 266.6 -30.0 266.6 26.7Z" fill="#7c0000"/>
<path d="M221.8 24.0 L213.4 24.7 204.9 25.1 197.1 25.1 188.9 25.0 177.6 24.2 166.9 23.1 154.9 21.4 142.2 19.2 102.2 19.2 102.2 -30.0 261.8 -30.0 261.8 24.0Z" fill="#720000"/>
<path d="M215.1 20.8 L206.8 21.1 198.8 21.1 190.7 20.9 182.7 20.4 174.6 19.6 166.4 18.7 157.4 17.3 147.9 15.7 107.9 15.7 107.9 -30.0 255.1 -30.0 255.1 20.8Z" fill="#690000"/>
<path d="M204.5 16.7 L192.9 16.3 181.1 15.4 168.6 13.9 155.1 11.8 115.1 11.8 115.1 -30.0 244.5 -30.0 244.5 16.7Z" fill="#5f0000"/>
<path d="M182.2 9.6 L173.3 8.5 164.3 7.1 124.3 7.1 124.3 -30.0 222.2 -30.0 222.2 9.6Z" fill="#5f0000"/>
</g>
<path d="M159.7 235.2L162.6 233.2L165.5 231.2L168.3 229.1L171.1 227.0L173.9 224.9L176.7 222.8L179.5 220.6L182.2 218.4L184.9 216.2L187.6 213.9L190.3 211.6L192.9 209.3L195.6 206.9L198.2 204.5L200.8 202.1L203.4 199.7L205.9 197.2L208.5 194.7L211.0 192.2L213.5 189.6L216.1 187.0L218.5 184.4L221.0 181.7L223.5 179.0L225.9 176.3L228.3 173.5L230.8 170.7L233.2 167.9L235.6 165.1L238.0 162.2L240.3 159.2L242.7 156.3L245.0 153.3L247.4 150.3L249.7 147.2L252.0 144.2L254.3 141.1L256.6 137.9L258.9 134.8L261.2 131.6M209.1 232.7L205.7 231.1L202.2 229.4L198.8 227.8L195.5 226.1L192.1 224.3L188.8 222.4L185.5 220.5L182.2 218.4L178.9 216.2L175.7 213.9L172.5 211.4L169.3 208.8L166.1 206.1L162.9 203.3L159.8 200.4L156.6 197.4L153.5 194.5L150.4 191.4L147.3 188.4L144.2 185.5L141.1 182.6L138.0 179.7L135.0 176.9L132.0 174.2L129.0 171.6L126.0 169.1L123.0 166.7L120.1 164.3L117.1 162.0L114.2 159.9L111.3 157.8L108.4 155.8L105.5 153.8L102.7 151.9L99.9 150.1L97.1 148.4L94.3 146.6L91.5 145.0L88.7 143.4L86.0 141.8M134.0 222.4L136.9 220.3L139.8 218.0L142.7 215.3L145.5 212.4L148.3 209.1L151.1 205.5L153.9 201.6L156.6 197.4L159.3 192.9L162.1 188.1L164.8 182.9L167.5 177.3L170.2 171.5L172.9 165.3L175.5 158.9L178.2 152.2L180.9 145.3L183.6 138.3L186.2 131.2L188.9 124.1L191.6 117.0L194.2 110.2L196.9 103.6L199.5 97.3L202.2 91.3L204.8 85.6L207.4 80.4L210.0 75.5L212.6 70.9L215.1 66.8L217.7 62.9L220.2 59.3L222.7 56.0L225.1 52.9L227.6 50.1L230.0 47.4L232.5 44.9L234.9 42.5L237.2 40.2L239.6 38.1M229.9 217.7L226.5 216.1L223.1 214.5L219.7 212.8L216.4 210.9L213.1 208.7L209.8 206.1L206.6 203.2L203.4 199.7L200.2 195.7L197.0 191.0L193.9 185.8L190.7 180.0L187.6 173.6L184.5 166.8L181.3 159.6L178.2 152.2L175.1 144.8L172.0 137.5L168.8 130.5L165.7 123.8L162.6 117.7L159.4 111.9L156.3 106.7L153.2 102.0L150.1 97.7L147.0 93.8L143.9 90.2L140.9 87.0L137.8 84.0L134.8 81.3L131.8 78.8L128.8 76.5L125.9 74.4L122.9 72.4L120.0 70.5L117.1 68.7L114.2 67.0L111.3 65.4L108.5 63.9L105.6 62.5M109.7 210.2L112.6 208.1L115.5 205.3L118.3 201.8L121.1 197.7L123.9 192.9L126.6 187.4L129.3 181.2L132.0 174.2L134.6 166.5L137.3 158.2L139.9 149.2L142.6 139.8L145.2 130.1L147.9 120.5L150.5 111.0L153.2 102.0L155.9 93.6L158.5 85.9L161.2 79.0L163.9 72.9L166.6 67.5L169.3 62.7L171.9 58.4L174.6 54.6L177.2 51.2L179.8 48.1L182.4 45.2L185.0 42.6L187.6 40.2L190.2 37.9L192.7 35.8L195.2 33.8L197.7 31.9L200.2 30.1L202.7 28.3L205.1 26.7L207.5 25.1L209.9 23.6L212.3 22.1L214.7 20.7M249.3 203.6L246.0 202.1L242.6 200.5L239.3 198.7L236.1 196.3L232.8 193.4L229.7 189.6L226.5 184.9L223.5 179.0L220.4 171.8L217.4 163.2L214.5 153.3L211.5 142.2L208.6 130.5L205.6 118.7L202.6 107.5L199.5 97.3L196.5 88.3L193.4 80.7L190.2 74.3L187.1 69.0L184.0 64.5L180.8 60.7L177.7 57.5L174.6 54.6L171.5 52.1L168.4 49.9L165.3 47.9L162.3 46.0L159.2 44.3L156.2 42.7L153.2 41.2L150.2 39.8L147.2 38.5L144.3 37.3L141.4 36.0L138.4 34.9L135.5 33.8L132.7 32.7L129.8 31.6L127.0 30.6M86.6 198.7L89.5 196.6L92.4 193.5L95.2 189.6L97.9 184.7L100.6 179.0L103.2 172.2L105.8 164.5L108.4 155.8L110.9 146.2L113.5 135.9L116.0 125.1L118.5 114.2L121.0 103.7L123.6 93.7L126.2 84.6L128.8 76.5L131.5 69.4L134.1 63.3L136.8 58.0L139.5 53.5L142.2 49.4L144.9 45.9L147.5 42.7L150.2 39.8L152.9 37.2L155.5 34.8L158.1 32.6L160.7 30.5L163.3 28.5L165.9 26.7L168.4 24.9L171.0 23.3L173.5 21.7L176.0 20.2L178.5 18.7L180.9 17.3L183.4 15.9L185.8 14.6L188.3 13.3L190.7 12.1M267.6 190.4L264.3 189.0L261.0 187.4L257.8 185.2L254.6 182.3L251.5 178.3L248.5 172.9L245.5 165.7L242.7 156.3L239.9 144.6L237.2 130.9L234.6 115.9L231.9 100.9L229.1 87.2L226.2 75.7L223.2 66.5L220.2 59.3L217.1 53.7L214.0 49.2L210.8 45.6L207.7 42.5L204.6 39.9L201.4 37.6L198.3 35.6L195.2 33.8L192.1 32.1L189.0 30.6L186.0 29.2L183.0 27.9L179.9 26.7L176.9 25.5L173.9 24.4L171.0 23.3L168.0 22.2L165.1 21.2L162.2 20.3L159.3 19.3L156.4 18.4L153.5 17.5L150.7 16.6L147.8 15.7" stroke="#b4b4b4" stroke-opacity="0.16" stroke-width="0.6" fill="none"/>
<path d="M54.8 40.2L64.7 187.8" stroke="#000" stroke-width="1.4" fill="none"/>
<path d="M64.7 187.8L186.9 248.8" stroke="#000" stroke-width="1.4" fill="none"/>
<path d="M186.9 248.8L284.8 177.9" stroke="#000" stroke-width="1.4" fill="none"/>
<path d="M64.7 187.8L61.1 189.7" stroke="#000" stroke-width="1.0" fill="none"/>
<path d="M62.4 153.4L58.7 155.2" stroke="#000" stroke-width="1.0" fill="none"/>
<path d="M60.0 117.3L56.2 119.0" stroke="#000" stroke-width="1.0" fill="none"/>
<path d="M57.4 79.7L53.6 81.2" stroke="#000" stroke-width="1.0" fill="none"/>
<path d="M54.8 40.2L50.8 41.6" stroke="#000" stroke-width="1.0" fill="none"/>
<path d="M186.9 248.8L182.9 251.7" stroke="#000" stroke-width="1.0" fill="none"/>
<path d="M159.7 235.2L155.6 238.0" stroke="#000" stroke-width="1.0" fill="none"/>
<path d="M134.0 222.4L129.9 225.0" stroke="#000" stroke-width="1.0" fill="none"/>
<path d="M109.7 210.2L105.5 212.7" stroke="#000" stroke-width="1.0" fill="none"/>
<path d="M86.6 198.7L82.4 201.1" stroke="#000" stroke-width="1.0" fill="none"/>
<path d="M64.7 187.8L60.5 190.1" stroke="#000" stroke-width="1.0" fill="none"/>
<path d="M186.9 248.8L191.9 251.2" stroke="#000" stroke-width="1.0" fill="none"/>
<path d="M209.1 232.7L214.0 235.0" stroke="#000" stroke-width="1.0" fill="none"/>
<path d="M229.9 217.7L234.7 219.8" stroke="#000" stroke-width="1.0" fill="none"/>
<path d="M249.3 203.6L254.1 205.6" stroke="#000" stroke-width="1.0" fill="none"/>
<path d="M267.6 190.4L272.3 192.2" stroke="#000" stroke-width="1.0" fill="none"/>
<path d="M284.8 177.9L289.4 179.7" stroke="#000" stroke-width="1.0" fill="none"/>
<text transform="matrix(0.8823 -0.4708 0.0743 1.0474 58.70 191.02)" y="3.70" font-size="10.6" font-weight="bold" text-anchor="end" >0.0</text>
<text transform="matrix(0.8986 -0.4387 0.0743 1.0474 56.24 156.35)" y="3.70" font-size="10.6" font-weight="bold" text-anchor="end" >0.5</text>
<text transform="matrix(0.9149 -0.4036 0.0743 1.0474 53.66 120.11)" y="3.70" font-size="10.6" font-weight="bold" text-anchor="end" >1.0</text>
<text transform="matrix(0.9310 -0.3651 0.0743 1.0474 50.97 82.19)" y="3.70" font-size="10.6" font-weight="bold" text-anchor="end" >1.5</text>
<text transform="matrix(0.9464 -0.3229 0.0743 1.0474 48.15 42.47)" y="3.70" font-size="10.6" font-weight="bold" text-anchor="end" >2.0</text>
<text transform="matrix(0.8713 -0.4907 0.8924 0.4513 81.12 203.61)" y="3.70" font-size="10.8" font-weight="bold" text-anchor="end" >800</text>
<text transform="matrix(0.8589 -0.5122 0.8924 0.4513 104.22 215.29)" y="3.70" font-size="10.8" font-weight="bold" text-anchor="end" >600</text>
<text transform="matrix(0.8447 -0.5352 0.8924 0.4513 128.60 227.62)" y="3.70" font-size="10.8" font-weight="bold" text-anchor="end" >400</text>
<text transform="matrix(0.8285 -0.5599 0.8924 0.4513 154.36 240.65)" y="3.70" font-size="10.8" font-weight="bold" text-anchor="end" >200</text>
<text transform="matrix(0.8950 0.4460 -0.8054 0.5927 192.67 251.31)" y="3.50" font-size="9.6" font-weight="bold" text-anchor="start" >0</text>
<text transform="matrix(0.9047 0.4260 -0.8054 0.5927 214.79 235.04)" y="3.50" font-size="9.6" font-weight="bold" text-anchor="start" >2</text>
<text transform="matrix(0.9132 0.4075 -0.8054 0.5927 235.46 219.82)" y="3.50" font-size="9.6" font-weight="bold" text-anchor="start" >4</text>
<text transform="matrix(0.9206 0.3904 -0.8054 0.5927 254.83 205.57)" y="3.50" font-size="9.6" font-weight="bold" text-anchor="start" >6</text>
<text transform="matrix(0.9272 0.3746 -0.8054 0.5927 273.02 192.19)" y="3.50" font-size="9.6" font-weight="bold" text-anchor="start" >8</text>
<text transform="matrix(0.9330 0.3599 -0.8054 0.5927 290.12 179.60)" y="3.50" font-size="9.6" font-weight="bold" text-anchor="start" >10</text>
<text transform="matrix(-0.0882 -0.9961 0.9162 -0.4006 34.33 124.72)" y="0.00" font-size="13.1" font-weight="bold" text-anchor="middle" >Differential absorption <tspan font-weight="normal">Δ</tspan>A</text>
<text transform="matrix(0.8814 0.4723 -0.8946 0.5497 94.11 237.17)" y="0.00" font-size="11.9" font-weight="bold" text-anchor="middle" >Length (nm)</text>
<text transform="matrix(0.7840 -0.6208 1.0087 0.4387 263.74 224.36)" y="0.00" font-size="10.7" font-weight="bold" text-anchor="middle" >Electric field (kV/cm)</text>
<defs><linearGradient id="cb" x1="0" y1="161.80" x2="0" y2="19.62" gradientUnits="userSpaceOnUse"><stop offset="0.0000" stop-color="#5f007d"/><stop offset="0.0516" stop-color="#8700b9"/><stop offset="0.0955" stop-color="#8000ff"/><stop offset="0.1446" stop-color="#0000ff"/><stop offset="0.2117" stop-color="#0080ff"/><stop offset="0.2659" stop-color="#00ffff"/><stop offset="0.2922" stop-color="#00ff80"/><stop offset="0.3252" stop-color="#00f000"/><stop offset="0.3769" stop-color="#50ff00"/><stop offset="0.4409" stop-color="#aaff00"/><stop offset="0.4904" stop-color="#ffff00"/><stop offset="0.5524" stop-color="#ff9600"/><stop offset="0.6061" stop-color="#ff4600"/><stop offset="0.6608" stop-color="#ff0000"/><stop offset="0.8260" stop-color="#ff0000"/><stop offset="0.9964" stop-color="#5f0000"/><stop offset="1" stop-color="#5f0000"/></linearGradient></defs>
<rect x="305.0" y="19.62" width="13.40" height="142.18" fill="url(#cb)"/>
<path d="M318.9 19.62V162.50" stroke="#000" stroke-width="1.4"/>
<path d="M318.9 161.80h4.4" stroke="#000" stroke-width="1.2"/>
<text x="326.7" y="165.20" font-size="9.3" font-weight="bold" >0.0</text>
<path d="M318.9 132.44h4.4" stroke="#000" stroke-width="1.2"/>
<text x="326.7" y="135.84" font-size="9.3" font-weight="bold" >0.4</text>
<path d="M318.9 103.08h4.4" stroke="#000" stroke-width="1.2"/>
<text x="326.7" y="106.48" font-size="9.3" font-weight="bold" >0.8</text>
<path d="M318.9 73.72h4.4" stroke="#000" stroke-width="1.2"/>
<text x="326.7" y="77.12" font-size="9.3" font-weight="bold" >1.2</text>
<path d="M318.9 44.36h4.4" stroke="#000" stroke-width="1.2"/>
<text x="326.7" y="47.76" font-size="9.3" font-weight="bold" >1.6</text>
<text x="312.3" y="179.5" font-size="11.8" font-weight="bold" ><tspan font-weight="normal">Δ</tspan>A</text>
<defs><clipPath id="clb"><rect x="64.45" y="303.0" width="263.00" height="211.90"/></clipPath></defs><g clip-path="url(#clb)">
<polyline points="64.5,514.9 65.1,514.9 65.8,514.8 66.4,514.8 67.1,514.8 67.7,514.8 68.4,514.8 69.1,514.8 69.7,514.9 70.4,514.9 71.0,514.9 71.7,514.9 72.3,514.9 73.0,514.8 73.7,514.8 74.3,514.8 75.0,514.7 75.6,514.6 76.3,514.4 76.9,514.2 77.6,513.9 78.3,513.5 78.9,512.8 79.6,512.1 80.2,511.1 80.9,509.9 81.5,508.7 82.2,507.4 82.9,506.2 83.5,504.8 84.2,503.4 84.8,501.9 85.5,500.2 86.1,498.3 86.8,496.2 87.5,494.0 88.1,491.6 88.8,489.1 89.4,486.5 90.1,483.7 90.8,480.7 91.4,477.6 92.1,474.5 92.7,471.2 93.4,467.7 94.0,464.2 94.7,460.6 95.4,456.9 96.0,453.2 96.7,449.4 97.3,445.5 98.0,441.6 98.6,437.6 99.3,433.6 100.0,429.6 100.6,425.6 101.3,421.6 101.9,417.7 102.6,413.7 103.2,409.8 103.9,405.9 104.6,402.0 105.2,398.2 105.9,394.5 106.5,390.8 107.2,387.2 107.8,383.7 108.5,380.2 109.2,376.8 109.8,373.5 110.5,370.3 111.1,367.2 111.8,364.2 112.4,361.2 113.1,358.4 113.8,355.7 114.4,353.1 115.1,350.6 115.7,348.2 116.4,345.9 117.1,343.7 117.7,341.6 118.4,339.6 119.0,337.8 119.7,336.0 120.3,334.3 121.0,332.7 121.7,331.2 122.3,329.9 123.0,328.6 123.6,327.4 124.3,326.3 124.9,325.3 125.6,324.3 126.3,323.5 126.9,322.8 127.6,322.1 128.2,321.5 128.9,321.0 129.5,320.6 130.2,320.2 130.9,319.9 131.5,319.7 132.2,319.6 132.8,319.5 133.5,319.5 134.1,319.5 134.8,319.6 135.5,319.8 136.1,320.0 136.8,320.3 137.4,320.6 138.1,320.9 138.7,321.4 139.4,321.8 140.1,322.4 140.7,322.9 141.4,323.5 142.0,324.2 142.7,324.8 143.3,325.6 144.0,326.3 144.7,327.1 145.3,327.9 146.0,328.8 146.6,329.7 147.3,330.6 148.0,331.5 148.6,332.5 149.3,333.5 149.9,334.5 150.6,335.6 151.2,336.6 151.9,337.7 152.6,338.8 153.2,340.0 153.9,341.1 154.5,342.3 155.2,343.4 155.8,344.6 156.5,345.8 157.2,347.1 157.8,348.3 158.5,349.5 159.1,350.8 159.8,352.0 160.4,353.3 161.1,354.6 161.8,355.9 162.4,357.2 163.1,358.5 163.7,359.8 164.4,361.1 165.0,362.4 165.7,363.7 166.4,365.0 167.0,366.3 167.7,367.6 168.3,368.9 169.0,370.3 169.7,371.6 170.3,372.9 171.0,374.2 171.6,375.5 172.3,376.8 172.9,378.1 173.6,379.4 174.3,380.7 174.9,382.0 175.6,383.3 176.2,384.6 176.9,385.9 177.5,387.2 178.2,388.4 178.9,389.7 179.5,391.0 180.2,392.2 180.8,393.5 181.5,394.7 182.1,395.9 182.8,397.2 183.5,398.4 184.1,399.6 184.8,400.8 185.4,402.0 186.1,403.2 186.7,404.4 187.4,405.6 188.1,406.7 188.7,407.9 189.4,409.1 190.0,410.2 190.7,411.3 191.3,412.5 192.0,413.6 192.7,414.7 193.3,415.8 194.0,416.9 194.6,418.0 195.3,419.1 195.9,420.1 196.6,421.2 197.3,422.2 197.9,423.3 198.6,424.3 199.2,425.3 199.9,426.4 200.6,427.4 201.2,428.4 201.9,429.3 202.5,430.3 203.2,431.3 203.8,432.3 204.5,433.2 205.2,434.2 205.8,435.1 206.5,436.0 207.1,436.9 207.8,437.8 208.4,438.7 209.1,439.6 209.8,440.5 210.4,441.4 211.1,442.2 211.7,443.1 212.4,443.9 213.0,444.8 213.7,445.6 214.4,446.4 215.0,447.2 215.7,448.1 216.3,448.9 217.0,449.6 217.6,450.4 218.3,451.2 219.0,452.0 219.6,452.7 220.3,453.5 220.9,454.2 221.6,454.9 222.2,455.7 222.9,456.4 223.6,457.1 224.2,457.8 224.9,458.5 225.5,459.2 226.2,459.9 226.9,460.5 227.5,461.2 228.2,461.9 228.8,462.5 229.5,463.1 230.1,463.8 230.8,464.4 231.5,465.0 232.1,465.7 232.8,466.3 233.4,466.9 234.1,467.5 234.7,468.1 235.4,468.6 236.1,469.2 236.7,469.8 237.4,470.4 238.0,470.9 238.7,471.5 239.3,472.0 240.0,472.6 240.7,473.1 241.3,473.6 242.0,474.1 242.6,474.7 243.3,475.2 243.9,475.7 244.6,476.2 245.3,476.7 245.9,477.2 246.6,477.6 247.2,478.1 247.9,478.6 248.6,479.1 249.2,479.5 249.9,480.0 250.5,480.4 251.2,480.9 251.8,481.3 252.5,481.7 253.2,482.2 253.8,482.6 254.5,483.0 255.1,483.4 255.8,483.9 256.4,484.3 257.1,484.7 257.8,485.1 258.4,485.4 259.1,485.8 259.7,486.2 260.4,486.6 261.0,487.0 261.7,487.3 262.4,487.7 263.0,488.1 263.7,488.4 264.3,488.8 265.0,489.1 265.6,489.5 266.3,489.8 267.0,490.1 267.6,490.5 268.3,490.8 268.9,491.1 269.6,491.4 270.2,491.8 270.9,492.1 271.6,492.4 272.2,492.7 272.9,493.0 273.5,493.3 274.2,493.6 274.9,493.9 275.5,494.2 276.2,494.4 276.8,494.7 277.5,495.0 278.1,495.3 278.8,495.5 279.5,495.8 280.1,496.1 280.8,496.3 281.4,496.6 282.1,496.8 282.7,497.1 283.4,497.3 284.1,497.6 284.7,497.8 285.4,498.0 286.0,498.3 286.7,498.5 287.3,498.7 288.0,498.9 288.7,499.2 289.3,499.4 290.0,499.6 290.6,499.8 291.3,500.0 291.9,500.2 292.6,500.4 293.3,500.6 293.9,500.8 294.6,501.0 295.2,501.2 295.9,501.4 296.5,501.6 297.2,501.8 297.9,501.9 298.5,502.1 299.2,502.3 299.8,502.5 300.5,502.6 301.2,502.8 301.8,503.0 302.5,503.1 303.1,503.3 303.8,503.4 304.4,503.6 305.1,503.8 305.8,503.9 306.4,504.0 307.1,504.2 307.7,504.3 308.4,504.5 309.0,504.6 309.7,504.7 310.4,504.9 311.0,505.0 311.7,505.1 312.3,505.3 313.0,505.4 313.6,505.5 314.3,505.6 315.0,505.7 315.6,505.8 316.3,505.9 316.9,506.1 317.6,506.2 318.2,506.3 318.9,506.4 319.6,506.5 320.2,506.6 320.9,506.7 321.5,506.7 322.2,506.8 322.8,506.9 323.5,507.0 324.2,507.1 324.8,507.2 325.5,507.2 326.1,507.3 326.8,507.4 327.4,507.5" fill="none" stroke="#000" stroke-width="1.6"/>
<path d="M64.5 514.9m-2.35 0a2.35 2.35 0 1 0 4.7 0a2.35 2.35 0 1 0 -4.7 0M65.8 514.8m-2.35 0a2.35 2.35 0 1 0 4.7 0a2.35 2.35 0 1 0 -4.7 0M67.1 514.8m-2.35 0a2.35 2.35 0 1 0 4.7 0a2.35 2.35 0 1 0 -4.7 0M68.4 514.8m-2.35 0a2.35 2.35 0 1 0 4.7 0a2.35 2.35 0 1 0 -4.7 0M69.7 514.9m-2.35 0a2.35 2.35 0 1 0 4.7 0a2.35 2.35 0 1 0 -4.7 0M71.0 514.9m-2.35 0a2.35 2.35 0 1 0 4.7 0a2.35 2.35 0 1 0 -4.7 0M72.3 514.9m-2.35 0a2.35 2.35 0 1 0 4.7 0a2.35 2.35 0 1 0 -4.7 0M73.7 514.8m-2.35 0a2.35 2.35 0 1 0 4.7 0a2.35 2.35 0 1 0 -4.7 0M75.0 514.7m-2.35 0a2.35 2.35 0 1 0 4.7 0a2.35 2.35 0 1 0 -4.7 0M76.3 514.4m-2.35 0a2.35 2.35 0 1 0 4.7 0a2.35 2.35 0 1 0 -4.7 0M77.6 513.9m-2.35 0a2.35 2.35 0 1 0 4.7 0a2.35 2.35 0 1 0 -4.7 0M78.9 512.8m-2.35 0a2.35 2.35 0 1 0 4.7 0a2.35 2.35 0 1 0 -4.7 0M80.2 511.1m-2.35 0a2.35 2.35 0 1 0 4.7 0a2.35 2.35 0 1 0 -4.7 0M81.5 508.7m-2.35 0a2.35 2.35 0 1 0 4.7 0a2.35 2.35 0 1 0 -4.7 0M82.9 506.2m-2.35 0a2.35 2.35 0 1 0 4.7 0a2.35 2.35 0 1 0 -4.7 0M84.2 503.4m-2.35 0a2.35 2.35 0 1 0 4.7 0a2.35 2.35 0 1 0 -4.7 0M85.5 500.2m-2.35 0a2.35 2.35 0 1 0 4.7 0a2.35 2.35 0 1 0 -4.7 0M86.8 496.2m-2.35 0a2.35 2.35 0 1 0 4.7 0a2.35 2.35 0 1 0 -4.7 0M88.1 491.6m-2.35 0a2.35 2.35 0 1 0 4.7 0a2.35 2.35 0 1 0 -4.7 0M89.4 486.5m-2.35 0a2.35 2.35 0 1 0 4.7 0a2.35 2.35 0 1 0 -4.7 0M90.8 480.7m-2.35 0a2.35 2.35 0 1 0 4.7 0a2.35 2.35 0 1 0 -4.7 0M92.1 474.5m-2.35 0a2.35 2.35 0 1 0 4.7 0a2.35 2.35 0 1 0 -4.7 0M93.4 467.7m-2.35 0a2.35 2.35 0 1 0 4.7 0a2.35 2.35 0 1 0 -4.7 0M94.7 460.6m-2.35 0a2.35 2.35 0 1 0 4.7 0a2.35 2.35 0 1 0 -4.7 0M96.0 453.2m-2.35 0a2.35 2.35 0 1 0 4.7 0a2.35 2.35 0 1 0 -4.7 0M97.3 445.5m-2.35 0a2.35 2.35 0 1 0 4.7 0a2.35 2.35 0 1 0 -4.7 0M98.6 437.6m-2.35 0a2.35 2.35 0 1 0 4.7 0a2.35 2.35 0 1 0 -4.7 0M100.0 429.6m-2.35 0a2.35 2.35 0 1 0 4.7 0a2.35 2.35 0 1 0 -4.7 0M101.3 421.6m-2.35 0a2.35 2.35 0 1 0 4.7 0a2.35 2.35 0 1 0 -4.7 0M102.6 413.7m-2.35 0a2.35 2.35 0 1 0 4.7 0a2.35 2.35 0 1 0 -4.7 0M103.9 405.9m-2.35 0a2.35 2.35 0 1 0 4.7 0a2.35 2.35 0 1 0 -4.7 0M105.2 398.2m-2.35 0a2.35 2.35 0 1 0 4.7 0a2.35 2.35 0 1 0 -4.7 0M106.5 390.8m-2.35 0a2.35 2.35 0 1 0 4.7 0a2.35 2.35 0 1 0 -4.7 0M107.8 383.7m-2.35 0a2.35 2.35 0 1 0 4.7 0a2.35 2.35 0 1 0 -4.7 0M109.2 376.8m-2.35 0a2.35 2.35 0 1 0 4.7 0a2.35 2.35 0 1 0 -4.7 0M110.5 370.3m-2.35 0a2.35 2.35 0 1 0 4.7 0a2.35 2.35 0 1 0 -4.7 0M111.8 364.2m-2.35 0a2.35 2.35 0 1 0 4.7 0a2.35 2.35 0 1 0 -4.7 0M113.1 358.4m-2.35 0a2.35 2.35 0 1 0 4.7 0a2.35 2.35 0 1 0 -4.7 0M114.4 353.1m-2.35 0a2.35 2.35 0 1 0 4.7 0a2.35 2.35 0 1 0 -4.7 0M115.7 348.2m-2.35 0a2.35 2.35 0 1 0 4.7 0a2.35 2.35 0 1 0 -4.7 0M117.1 343.7m-2.35 0a2.35 2.35 0 1 0 4.7 0a2.35 2.35 0 1 0 -4.7 0M118.4 339.6m-2.35 0a2.35 2.35 0 1 0 4.7 0a2.35 2.35 0 1 0 -4.7 0M119.7 336.0m-2.35 0a2.35 2.35 0 1 0 4.7 0a2.35 2.35 0 1 0 -4.7 0M121.0 332.7m-2.35 0a2.35 2.35 0 1 0 4.7 0a2.35 2.35 0 1 0 -4.7 0M122.3 329.9m-2.35 0a2.35 2.35 0 1 0 4.7 0a2.35 2.35 0 1 0 -4.7 0M123.6 327.4m-2.35 0a2.35 2.35 0 1 0 4.7 0a2.35 2.35 0 1 0 -4.7 0M124.9 325.3m-2.35 0a2.35 2.35 0 1 0 4.7 0a2.35 2.35 0 1 0 -4.7 0M126.3 323.5m-2.35 0a2.35 2.35 0 1 0 4.7 0a2.35 2.35 0 1 0 -4.7 0M127.6 322.1m-2.35 0a2.35 2.35 0 1 0 4.7 0a2.35 2.35 0 1 0 -4.7 0M128.9 321.0m-2.35 0a2.35 2.35 0 1 0 4.7 0a2.35 2.35 0 1 0 -4.7 0M130.2 320.2m-2.35 0a2.35 2.35 0 1 0 4.7 0a2.35 2.35 0 1 0 -4.7 0M131.5 319.7m-2.35 0a2.35 2.35 0 1 0 4.7 0a2.35 2.35 0 1 0 -4.7 0M132.8 319.5m-2.35 0a2.35 2.35 0 1 0 4.7 0a2.35 2.35 0 1 0 -4.7 0M134.1 319.5m-2.35 0a2.35 2.35 0 1 0 4.7 0a2.35 2.35 0 1 0 -4.7 0M135.5 319.8m-2.35 0a2.35 2.35 0 1 0 4.7 0a2.35 2.35 0 1 0 -4.7 0M136.8 320.3m-2.35 0a2.35 2.35 0 1 0 4.7 0a2.35 2.35 0 1 0 -4.7 0M138.1 320.9m-2.35 0a2.35 2.35 0 1 0 4.7 0a2.35 2.35 0 1 0 -4.7 0M139.4 321.8m-2.35 0a2.35 2.35 0 1 0 4.7 0a2.35 2.35 0 1 0 -4.7 0M140.7 322.9m-2.35 0a2.35 2.35 0 1 0 4.7 0a2.35 2.35 0 1 0 -4.7 0M142.0 324.2m-2.35 0a2.35 2.35 0 1 0 4.7 0a2.35 2.35 0 1 0 -4.7 0M143.3 325.6m-2.35 0a2.35 2.35 0 1 0 4.7 0a2.35 2.35 0 1 0 -4.7 0M144.7 327.1m-2.35 0a2.35 2.35 0 1 0 4.7 0a2.35 2.35 0 1 0 -4.7 0M146.0 328.8m-2.35 0a2.35 2.35 0 1 0 4.7 0a2.35 2.35 0 1 0 -4.7 0M147.3 330.6m-2.35 0a2.35 2.35 0 1 0 4.7 0a2.35 2.35 0 1 0 -4.7 0M148.6 332.5m-2.35 0a2.35 2.35 0 1 0 4.7 0a2.35 2.35 0 1 0 -4.7 0M149.9 334.5m-2.35 0a2.35 2.35 0 1 0 4.7 0a2.35 2.35 0 1 0 -4.7 0M151.2 336.6m-2.35 0a2.35 2.35 0 1 0 4.7 0a2.35 2.35 0 1 0 -4.7 0M152.6 338.8m-2.35 0a2.35 2.35 0 1 0 4.7 0a2.35 2.35 0 1 0 -4.7 0M153.9 341.1m-2.35 0a2.35 2.35 0 1 0 4.7 0a2.35 2.35 0 1 0 -4.7 0M155.2 343.4m-2.35 0a2.35 2.35 0 1 0 4.7 0a2.35 2.35 0 1 0 -4.7 0M156.5 345.8m-2.35 0a2.35 2.35 0 1 0 4.7 0a2.35 2.35 0 1 0 -4.7 0M157.8 348.3m-2.35 0a2.35 2.35 0 1 0 4.7 0a2.35 2.35 0 1 0 -4.7 0M159.1 350.8m-2.35 0a2.35 2.35 0 1 0 4.7 0a2.35 2.35 0 1 0 -4.7 0M160.4 353.3m-2.35 0a2.35 2.35 0 1 0 4.7 0a2.35 2.35 0 1 0 -4.7 0M161.8 355.9m-2.35 0a2.35 2.35 0 1 0 4.7 0a2.35 2.35 0 1 0 -4.7 0M163.1 358.5m-2.35 0a2.35 2.35 0 1 0 4.7 0a2.35 2.35 0 1 0 -4.7 0M164.4 361.1m-2.35 0a2.35 2.35 0 1 0 4.7 0a2.35 2.35 0 1 0 -4.7 0M165.7 363.7m-2.35 0a2.35 2.35 0 1 0 4.7 0a2.35 2.35 0 1 0 -4.7 0M167.0 366.3m-2.35 0a2.35 2.35 0 1 0 4.7 0a2.35 2.35 0 1 0 -4.7 0M168.3 368.9m-2.35 0a2.35 2.35 0 1 0 4.7 0a2.35 2.35 0 1 0 -4.7 0M169.7 371.6m-2.35 0a2.35 2.35 0 1 0 4.7 0a2.35 2.35 0 1 0 -4.7 0M171.0 374.2m-2.35 0a2.35 2.35 0 1 0 4.7 0a2.35 2.35 0 1 0 -4.7 0M172.3 376.8m-2.35 0a2.35 2.35 0 1 0 4.7 0a2.35 2.35 0 1 0 -4.7 0M173.6 379.4m-2.35 0a2.35 2.35 0 1 0 4.7 0a2.35 2.35 0 1 0 -4.7 0M174.9 382.0m-2.35 0a2.35 2.35 0 1 0 4.7 0a2.35 2.35 0 1 0 -4.7 0M176.2 384.6m-2.35 0a2.35 2.35 0 1 0 4.7 0a2.35 2.35 0 1 0 -4.7 0M177.5 387.2m-2.35 0a2.35 2.35 0 1 0 4.7 0a2.35 2.35 0 1 0 -4.7 0M178.9 389.7m-2.35 0a2.35 2.35 0 1 0 4.7 0a2.35 2.35 0 1 0 -4.7 0M180.2 392.2m-2.35 0a2.35 2.35 0 1 0 4.7 0a2.35 2.35 0 1 0 -4.7 0M181.5 394.7m-2.35 0a2.35 2.35 0 1 0 4.7 0a2.35 2.35 0 1 0 -4.7 0M182.8 397.2m-2.35 0a2.35 2.35 0 1 0 4.7 0a2.35 2.35 0 1 0 -4.7 0M184.1 399.6m-2.35 0a2.35 2.35 0 1 0 4.7 0a2.35 2.35 0 1 0 -4.7 0M185.4 402.0m-2.35 0a2.35 2.35 0 1 0 4.7 0a2.35 2.35 0 1 0 -4.7 0M186.7 404.4m-2.35 0a2.35 2.35 0 1 0 4.7 0a2.35 2.35 0 1 0 -4.7 0M188.1 406.7m-2.35 0a2.35 2.35 0 1 0 4.7 0a2.35 2.35 0 1 0 -4.7 0M189.4 409.1m-2.35 0a2.35 2.35 0 1 0 4.7 0a2.35 2.35 0 1 0 -4.7 0M190.7 411.3m-2.35 0a2.35 2.35 0 1 0 4.7 0a2.35 2.35 0 1 0 -4.7 0M192.0 413.6m-2.35 0a2.35 2.35 0 1 0 4.7 0a2.35 2.35 0 1 0 -4.7 0M193.3 415.8m-2.35 0a2.35 2.35 0 1 0 4.7 0a2.35 2.35 0 1 0 -4.7 0M194.6 418.0m-2.35 0a2.35 2.35 0 1 0 4.7 0a2.35 2.35 0 1 0 -4.7 0M195.9 420.1m-2.35 0a2.35 2.35 0 1 0 4.7 0a2.35 2.35 0 1 0 -4.7 0M197.3 422.2m-2.35 0a2.35 2.35 0 1 0 4.7 0a2.35 2.35 0 1 0 -4.7 0M198.6 424.3m-2.35 0a2.35 2.35 0 1 0 4.7 0a2.35 2.35 0 1 0 -4.7 0M199.9 426.4m-2.35 0a2.35 2.35 0 1 0 4.7 0a2.35 2.35 0 1 0 -4.7 0M201.2 428.4m-2.35 0a2.35 2.35 0 1 0 4.7 0a2.35 2.35 0 1 0 -4.7 0M202.5 430.3m-2.35 0a2.35 2.35 0 1 0 4.7 0a2.35 2.35 0 1 0 -4.7 0M203.8 432.3m-2.35 0a2.35 2.35 0 1 0 4.7 0a2.35 2.35 0 1 0 -4.7 0M205.2 434.2m-2.35 0a2.35 2.35 0 1 0 4.7 0a2.35 2.35 0 1 0 -4.7 0M206.5 436.0m-2.35 0a2.35 2.35 0 1 0 4.7 0a2.35 2.35 0 1 0 -4.7 0M207.8 437.8m-2.35 0a2.35 2.35 0 1 0 4.7 0a2.35 2.35 0 1 0 -4.7 0M209.1 439.6m-2.35 0a2.35 2.35 0 1 0 4.7 0a2.35 2.35 0 1 0 -4.7 0M210.4 441.4m-2.35 0a2.35 2.35 0 1 0 4.7 0a2.35 2.35 0 1 0 -4.7 0M211.7 443.1m-2.35 0a2.35 2.35 0 1 0 4.7 0a2.35 2.35 0 1 0 -4.7 0M213.0 444.8m-2.35 0a2.35 2.35 0 1 0 4.7 0a2.35 2.35 0 1 0 -4.7 0M214.4 446.4m-2.35 0a2.35 2.35 0 1 0 4.7 0a2.35 2.35 0 1 0 -4.7 0M215.7 448.1m-2.35 0a2.35 2.35 0 1 0 4.7 0a2.35 2.35 0 1 0 -4.7 0M217.0 449.6m-2.35 0a2.35 2.35 0 1 0 4.7 0a2.35 2.35 0 1 0 -4.7 0M218.3 451.2m-2.35 0a2.35 2.35 0 1 0 4.7 0a2.35 2.35 0 1 0 -4.7 0M219.6 452.7m-2.35 0a2.35 2.35 0 1 0 4.7 0a2.35 2.35 0 1 0 -4.7 0M220.9 454.2m-2.35 0a2.35 2.35 0 1 0 4.7 0a2.35 2.35 0 1 0 -4.7 0M222.2 455.7m-2.35 0a2.35 2.35 0 1 0 4.7 0a2.35 2.35 0 1 0 -4.7 0M223.6 457.1m-2.35 0a2.35 2.35 0 1 0 4.7 0a2.35 2.35 0 1 0 -4.7 0M224.9 458.5m-2.35 0a2.35 2.35 0 1 0 4.7 0a2.35 2.35 0 1 0 -4.7 0M226.2 459.9m-2.35 0a2.35 2.35 0 1 0 4.7 0a2.35 2.35 0 1 0 -4.7 0M227.5 461.2m-2.35 0a2.35 2.35 0 1 0 4.7 0a2.35 2.35 0 1 0 -4.7 0M228.8 462.5m-2.35 0a2.35 2.35 0 1 0 4.7 0a2.35 2.35 0 1 0 -4.7 0M230.1 463.8m-2.35 0a2.35 2.35 0 1 0 4.7 0a2.35 2.35 0 1 0 -4.7 0M231.5 465.0m-2.35 0a2.35 2.35 0 1 0 4.7 0a2.35 2.35 0 1 0 -4.7 0M232.8 466.3m-2.35 0a2.35 2.35 0 1 0 4.7 0a2.35 2.35 0 1 0 -4.7 0M234.1 467.5m-2.35 0a2.35 2.35 0 1 0 4.7 0a2.35 2.35 0 1 0 -4.7 0M235.4 468.6m-2.35 0a2.35 2.35 0 1 0 4.7 0a2.35 2.35 0 1 0 -4.7 0M236.7 469.8m-2.35 0a2.35 2.35 0 1 0 4.7 0a2.35 2.35 0 1 0 -4.7 0M238.0 470.9m-2.35 0a2.35 2.35 0 1 0 4.7 0a2.35 2.35 0 1 0 -4.7 0M239.3 472.0m-2.35 0a2.35 2.35 0 1 0 4.7 0a2.35 2.35 0 1 0 -4.7 0M240.7 473.1m-2.35 0a2.35 2.35 0 1 0 4.7 0a2.35 2.35 0 1 0 -4.7 0M242.0 474.1m-2.35 0a2.35 2.35 0 1 0 4.7 0a2.35 2.35 0 1 0 -4.7 0M243.3 475.2m-2.35 0a2.35 2.35 0 1 0 4.7 0a2.35 2.35 0 1 0 -4.7 0M244.6 476.2m-2.35 0a2.35 2.35 0 1 0 4.7 0a2.35 2.35 0 1 0 -4.7 0M245.9 477.2m-2.35 0a2.35 2.35 0 1 0 4.7 0a2.35 2.35 0 1 0 -4.7 0M247.2 478.1m-2.35 0a2.35 2.35 0 1 0 4.7 0a2.35 2.35 0 1 0 -4.7 0M248.6 479.1m-2.35 0a2.35 2.35 0 1 0 4.7 0a2.35 2.35 0 1 0 -4.7 0M249.9 480.0m-2.35 0a2.35 2.35 0 1 0 4.7 0a2.35 2.35 0 1 0 -4.7 0M251.2 480.9m-2.35 0a2.35 2.35 0 1 0 4.7 0a2.35 2.35 0 1 0 -4.7 0M252.5 481.7m-2.35 0a2.35 2.35 0 1 0 4.7 0a2.35 2.35 0 1 0 -4.7 0M253.8 482.6m-2.35 0a2.35 2.35 0 1 0 4.7 0a2.35 2.35 0 1 0 -4.7 0M255.1 483.4m-2.35 0a2.35 2.35 0 1 0 4.7 0a2.35 2.35 0 1 0 -4.7 0M256.4 484.3m-2.35 0a2.35 2.35 0 1 0 4.7 0a2.35 2.35 0 1 0 -4.7 0M257.8 485.1m-2.35 0a2.35 2.35 0 1 0 4.7 0a2.35 2.35 0 1 0 -4.7 0M259.1 485.8m-2.35 0a2.35 2.35 0 1 0 4.7 0a2.35 2.35 0 1 0 -4.7 0M260.4 486.6m-2.35 0a2.35 2.35 0 1 0 4.7 0a2.35 2.35 0 1 0 -4.7 0M261.7 487.3m-2.35 0a2.35 2.35 0 1 0 4.7 0a2.35 2.35 0 1 0 -4.7 0M263.0 488.1m-2.35 0a2.35 2.35 0 1 0 4.7 0a2.35 2.35 0 1 0 -4.7 0M264.3 488.8m-2.35 0a2.35 2.35 0 1 0 4.7 0a2.35 2.35 0 1 0 -4.7 0M265.6 489.5m-2.35 0a2.35 2.35 0 1 0 4.7 0a2.35 2.35 0 1 0 -4.7 0M267.0 490.1m-2.35 0a2.35 2.35 0 1 0 4.7 0a2.35 2.35 0 1 0 -4.7 0M268.3 490.8m-2.35 0a2.35 2.35 0 1 0 4.7 0a2.35 2.35 0 1 0 -4.7 0M269.6 491.4m-2.35 0a2.35 2.35 0 1 0 4.7 0a2.35 2.35 0 1 0 -4.7 0M270.9 492.1m-2.35 0a2.35 2.35 0 1 0 4.7 0a2.35 2.35 0 1 0 -4.7 0M272.2 492.7m-2.35 0a2.35 2.35 0 1 0 4.7 0a2.35 2.35 0 1 0 -4.7 0M273.5 493.3m-2.35 0a2.35 2.35 0 1 0 4.7 0a2.35 2.35 0 1 0 -4.7 0M274.9 493.9m-2.35 0a2.35 2.35 0 1 0 4.7 0a2.35 2.35 0 1 0 -4.7 0M276.2 494.4m-2.35 0a2.35 2.35 0 1 0 4.7 0a2.35 2.35 0 1 0 -4.7 0M277.5 495.0m-2.35 0a2.35 2.35 0 1 0 4.7 0a2.35 2.35 0 1 0 -4.7 0M278.8 495.5m-2.35 0a2.35 2.35 0 1 0 4.7 0a2.35 2.35 0 1 0 -4.7 0M280.1 496.0m-2.35 0a2.35 2.35 0 1 0 4.7 0a2.35 2.35 0 1 0 -4.7 0M281.4 496.5m-2.35 0a2.35 2.35 0 1 0 4.7 0a2.35 2.35 0 1 0 -4.7 0M282.7 496.9m-2.35 0a2.35 2.35 0 1 0 4.7 0a2.35 2.35 0 1 0 -4.7 0M284.1 497.4m-2.35 0a2.35 2.35 0 1 0 4.7 0a2.35 2.35 0 1 0 -4.7 0M285.4 497.8m-2.35 0a2.35 2.35 0 1 0 4.7 0a2.35 2.35 0 1 0 -4.7 0M286.7 498.2m-2.35 0a2.35 2.35 0 1 0 4.7 0a2.35 2.35 0 1 0 -4.7 0M288.0 498.6m-2.35 0a2.35 2.35 0 1 0 4.7 0a2.35 2.35 0 1 0 -4.7 0M289.3 499.0m-2.35 0a2.35 2.35 0 1 0 4.7 0a2.35 2.35 0 1 0 -4.7 0M290.6 499.3m-2.35 0a2.35 2.35 0 1 0 4.7 0a2.35 2.35 0 1 0 -4.7 0M291.9 499.7m-2.35 0a2.35 2.35 0 1 0 4.7 0a2.35 2.35 0 1 0 -4.7 0M293.3 500.1m-2.35 0a2.35 2.35 0 1 0 4.7 0a2.35 2.35 0 1 0 -4.7 0M294.6 500.4m-2.35 0a2.35 2.35 0 1 0 4.7 0a2.35 2.35 0 1 0 -4.7 0M295.9 500.8m-2.35 0a2.35 2.35 0 1 0 4.7 0a2.35 2.35 0 1 0 -4.7 0M297.2 501.2m-2.35 0a2.35 2.35 0 1 0 4.7 0a2.35 2.35 0 1 0 -4.7 0M298.5 501.6m-2.35 0a2.35 2.35 0 1 0 4.7 0a2.35 2.35 0 1 0 -4.7 0M299.8 501.9m-2.35 0a2.35 2.35 0 1 0 4.7 0a2.35 2.35 0 1 0 -4.7 0M301.2 502.3m-2.35 0a2.35 2.35 0 1 0 4.7 0a2.35 2.35 0 1 0 -4.7 0M302.5 502.7m-2.35 0a2.35 2.35 0 1 0 4.7 0a2.35 2.35 0 1 0 -4.7 0M303.8 503.1m-2.35 0a2.35 2.35 0 1 0 4.7 0a2.35 2.35 0 1 0 -4.7 0M305.1 503.5m-2.35 0a2.35 2.35 0 1 0 4.7 0a2.35 2.35 0 1 0 -4.7 0M306.4 503.8m-2.35 0a2.35 2.35 0 1 0 4.7 0a2.35 2.35 0 1 0 -4.7 0M307.7 504.2m-2.35 0a2.35 2.35 0 1 0 4.7 0a2.35 2.35 0 1 0 -4.7 0M309.0 504.5m-2.35 0a2.35 2.35 0 1 0 4.7 0a2.35 2.35 0 1 0 -4.7 0M310.4 504.8m-2.35 0a2.35 2.35 0 1 0 4.7 0a2.35 2.35 0 1 0 -4.7 0M311.7 505.1m-2.35 0a2.35 2.35 0 1 0 4.7 0a2.35 2.35 0 1 0 -4.7 0M313.0 505.3m-2.35 0a2.35 2.35 0 1 0 4.7 0a2.35 2.35 0 1 0 -4.7 0M314.3 505.5m-2.35 0a2.35 2.35 0 1 0 4.7 0a2.35 2.35 0 1 0 -4.7 0M315.6 505.7m-2.35 0a2.35 2.35 0 1 0 4.7 0a2.35 2.35 0 1 0 -4.7 0M316.9 505.8m-2.35 0a2.35 2.35 0 1 0 4.7 0a2.35 2.35 0 1 0 -4.7 0M318.2 505.8m-2.35 0a2.35 2.35 0 1 0 4.7 0a2.35 2.35 0 1 0 -4.7 0M319.6 505.7m-2.35 0a2.35 2.35 0 1 0 4.7 0a2.35 2.35 0 1 0 -4.7 0M320.9 505.5m-2.35 0a2.35 2.35 0 1 0 4.7 0a2.35 2.35 0 1 0 -4.7 0M322.2 505.2m-2.35 0a2.35 2.35 0 1 0 4.7 0a2.35 2.35 0 1 0 -4.7 0M323.5 504.9m-2.35 0a2.35 2.35 0 1 0 4.7 0a2.35 2.35 0 1 0 -4.7 0M324.8 504.6m-2.35 0a2.35 2.35 0 1 0 4.7 0a2.35 2.35 0 1 0 -4.7 0M326.1 504.4m-2.35 0a2.35 2.35 0 1 0 4.7 0a2.35 2.35 0 1 0 -4.7 0M327.4 504.4m-2.35 0a2.35 2.35 0 1 0 4.7 0a2.35 2.35 0 1 0 -4.7 0" fill="none" stroke="#f00" stroke-width="0.9"/>
<polyline points="64.5,514.9 65.1,514.9 65.8,514.8 66.4,514.8 67.1,514.8 67.7,514.8 68.4,514.8 69.1,514.8 69.7,514.9 70.4,514.9 71.0,514.9 71.7,514.9 72.3,514.9 73.0,514.8 73.7,514.8 74.3,514.8 75.0,514.7 75.6,514.6 76.3,514.4 76.9,514.2 77.6,513.9 78.3,513.5 78.9,512.8 79.6,512.1 80.2,511.1 80.9,509.9 81.5,508.7 82.2,507.4 82.9,506.2 83.5,504.8 84.2,503.4 84.8,501.9 85.5,500.2 86.1,498.3 86.8,496.2 87.5,494.0 88.1,491.6 88.8,489.1 89.4,486.5 90.1,483.7 90.8,480.7 91.4,477.6 92.1,474.5 92.7,471.2 93.4,467.7 94.0,464.2 94.7,460.6 95.4,456.9 96.0,453.2 96.7,449.4 97.3,445.5 98.0,441.6 98.6,437.6 99.3,433.6 100.0,429.6 100.6,425.6 101.3,421.6 101.9,417.7 102.6,413.7 103.2,409.8 103.9,405.9 104.6,402.0 105.2,398.2 105.9,394.5 106.5,390.8 107.2,387.2 107.8,383.7 108.5,380.2 109.2,376.8 109.8,373.5 110.5,370.3 111.1,367.2 111.8,364.2 112.4,361.2 113.1,358.4 113.8,355.7 114.4,353.1 115.1,350.6 115.7,348.2 116.4,345.9 117.1,343.7 117.7,341.6 118.4,339.6 119.0,337.8 119.7,336.0 120.3,334.3 121.0,332.7 121.7,331.2 122.3,329.9 123.0,328.6 123.6,327.4 124.3,326.3 124.9,325.3 125.6,324.3 126.3,323.5 126.9,322.8 127.6,322.1 128.2,321.5 128.9,321.0 129.5,320.6 130.2,320.2 130.9,319.9 131.5,319.7 132.2,319.6 132.8,319.5 133.5,319.5 134.1,319.5 134.8,319.6 135.5,319.8 136.1,320.0 136.8,320.3 137.4,320.6 138.1,320.9 138.7,321.4 139.4,321.8 140.1,322.4 140.7,322.9 141.4,323.5 142.0,324.2 142.7,324.8 143.3,325.6 144.0,326.3 144.7,327.1 145.3,327.9 146.0,328.8 146.6,329.7 147.3,330.6 148.0,331.5 148.6,332.5 149.3,333.5 149.9,334.5 150.6,335.6 151.2,336.6 151.9,337.7 152.6,338.8 153.2,340.0 153.9,341.1 154.5,342.3 155.2,343.4 155.8,344.6 156.5,345.8 157.2,347.1 157.8,348.3 158.5,349.5 159.1,350.8 159.8,352.0 160.4,353.3 161.1,354.6 161.8,355.9 162.4,357.2 163.1,358.5 163.7,359.8 164.4,361.1 165.0,362.4 165.7,363.7 166.4,365.0 167.0,366.3 167.7,367.6 168.3,368.9 169.0,370.3 169.7,371.6 170.3,372.9 171.0,374.2 171.6,375.5 172.3,376.8 172.9,378.1 173.6,379.4 174.3,380.7 174.9,382.0 175.6,383.3 176.2,384.6 176.9,385.9 177.5,387.2 178.2,388.4 178.9,389.7 179.5,391.0 180.2,392.2 180.8,393.5 181.5,394.7 182.1,395.9 182.8,397.2 183.5,398.4 184.1,399.6 184.8,400.8 185.4,402.0 186.1,403.2 186.7,404.4 187.4,405.6 188.1,406.7 188.7,407.9 189.4,409.1 190.0,410.2 190.7,411.3 191.3,412.5 192.0,413.6 192.7,414.7 193.3,415.8 194.0,416.9 194.6,418.0 195.3,419.1 195.9,420.1 196.6,421.2 197.3,422.2 197.9,423.3 198.6,424.3 199.2,425.3 199.9,426.4 200.6,427.4 201.2,428.4 201.9,429.3 202.5,430.3 203.2,431.3 203.8,432.3 204.5,433.2 205.2,434.2 205.8,435.1 206.5,436.0 207.1,436.9 207.8,437.8 208.4,438.7 209.1,439.6 209.8,440.5 210.4,441.4 211.1,442.2 211.7,443.1 212.4,443.9 213.0,444.8 213.7,445.6 214.4,446.4 215.0,447.2 215.7,448.1 216.3,448.9 217.0,449.6 217.6,450.4 218.3,451.2 219.0,452.0 219.6,452.7 220.3,453.5 220.9,454.2 221.6,454.9 222.2,455.7 222.9,456.4 223.6,457.1 224.2,457.8 224.9,458.5 225.5,459.2 226.2,459.9 226.9,460.5 227.5,461.2 228.2,461.9 228.8,462.5 229.5,463.1 230.1,463.8 230.8,464.4 231.5,465.0 232.1,465.7 232.8,466.3 233.4,466.9 234.1,467.5 234.7,468.1 235.4,468.6 236.1,469.2 236.7,469.8 237.4,470.4 238.0,470.9 238.7,471.5 239.3,472.0 240.0,472.6 240.7,473.1 241.3,473.6 242.0,474.1 242.6,474.7 243.3,475.2 243.9,475.7 244.6,476.2 245.3,476.7 245.9,477.2 246.6,477.6 247.2,478.1 247.9,478.6 248.6,479.1 249.2,479.5 249.9,480.0 250.5,480.4 251.2,480.9 251.8,481.3 252.5,481.7 253.2,482.2 253.8,482.6 254.5,483.0 255.1,483.4 255.8,483.9 256.4,484.3 257.1,484.7 257.8,485.1 258.4,485.4 259.1,485.8 259.7,486.2 260.4,486.6 261.0,487.0 261.7,487.3 262.4,487.7 263.0,488.1 263.7,488.4 264.3,488.8 265.0,489.1 265.6,489.5 266.3,489.8 267.0,490.1 267.6,490.5 268.3,490.8 268.9,491.1 269.6,491.4 270.2,491.8 270.9,492.1 271.6,492.4 272.2,492.7 272.9,493.0 273.5,493.3 274.2,493.6 274.9,493.9 275.5,494.2 276.2,494.4 276.8,494.7 277.5,495.0 278.1,495.3 278.8,495.5 279.5,495.8 280.1,496.1 280.8,496.3 281.4,496.6 282.1,496.8 282.7,497.1 283.4,497.3 284.1,497.6 284.7,497.8 285.4,498.0 286.0,498.3 286.7,498.5 287.3,498.7 288.0,498.9 288.7,499.2 289.3,499.4 290.0,499.6 290.6,499.8 291.3,500.0 291.9,500.2 292.6,500.4 293.3,500.6 293.9,500.8 294.6,501.0 295.2,501.2 295.9,501.4 296.5,501.6 297.2,501.8 297.9,501.9 298.5,502.1 299.2,502.3 299.8,502.5 300.5,502.6 301.2,502.8 301.8,503.0 302.5,503.1 303.1,503.3 303.8,503.4 304.4,503.6 305.1,503.8 305.8,503.9 306.4,504.0 307.1,504.2 307.7,504.3 308.4,504.5 309.0,504.6 309.7,504.7 310.4,504.9 311.0,505.0 311.7,505.1 312.3,505.3 313.0,505.4 313.6,505.5 314.3,505.6 315.0,505.7 315.6,505.8 316.3,505.9 316.9,506.1 317.6,506.2 318.2,506.3 318.9,506.4 319.6,506.5 320.2,506.6 320.9,506.7 321.5,506.7 322.2,506.8 322.8,506.9 323.5,507.0 324.2,507.1 324.8,507.2 325.5,507.2 326.1,507.3 326.8,507.4 327.4,507.5" fill="none" stroke="#000" stroke-width="0.9" stroke-opacity="0.28"/>
</g>
<rect x="64.45" y="303.0" width="263.00" height="211.90" fill="none" stroke="#000" stroke-width="1.5"/>
<path d="M64.45 514.90h-5" stroke="#000" stroke-width="1.2"/>
<text transform="translate(57.2 518.40) scale(1.07 1)" font-size="10.2" font-weight="bold" text-anchor="end" >0.000</text>
<path d="M64.45 499.76h-2.8" stroke="#000" stroke-width="1.2"/>
<path d="M64.45 484.63h-5" stroke="#000" stroke-width="1.2"/>
<text transform="translate(57.2 488.13) scale(1.07 1)" font-size="10.2" font-weight="bold" text-anchor="end" >0.002</text>
<path d="M64.45 469.49h-2.8" stroke="#000" stroke-width="1.2"/>
<path d="M64.45 454.36h-5" stroke="#000" stroke-width="1.2"/>
<text transform="translate(57.2 457.86) scale(1.07 1)" font-size="10.2" font-weight="bold" text-anchor="end" >0.004</text>
<path d="M64.45 439.22h-2.8" stroke="#000" stroke-width="1.2"/>
<path d="M64.45 424.09h-5" stroke="#000" stroke-width="1.2"/>
<text transform="translate(57.2 427.59) scale(1.07 1)" font-size="10.2" font-weight="bold" text-anchor="end" >0.006</text>
<path d="M64.45 408.95h-2.8" stroke="#000" stroke-width="1.2"/>
<path d="M64.45 393.81h-5" stroke="#000" stroke-width="1.2"/>
<text transform="translate(57.2 397.31) scale(1.07 1)" font-size="10.2" font-weight="bold" text-anchor="end" >0.008</text>
<path d="M64.45 378.68h-2.8" stroke="#000" stroke-width="1.2"/>
<path d="M64.45 363.54h-5" stroke="#000" stroke-width="1.2"/>
<text transform="translate(57.2 367.04) scale(1.07 1)" font-size="10.2" font-weight="bold" text-anchor="end" >0.010</text>
<path d="M64.45 348.41h-2.8" stroke="#000" stroke-width="1.2"/>
<path d="M64.45 333.27h-5" stroke="#000" stroke-width="1.2"/>
<text transform="translate(57.2 336.77) scale(1.07 1)" font-size="10.2" font-weight="bold" text-anchor="end" >0.012</text>
<path d="M64.45 318.14h-2.8" stroke="#000" stroke-width="1.2"/>
<path d="M64.45 303.00h-5" stroke="#000" stroke-width="1.2"/>
<text transform="translate(57.2 306.50) scale(1.07 1)" font-size="10.2" font-weight="bold" text-anchor="end" >0.014</text>
<path d="M64.45 514.9v4.5" stroke="#000" stroke-width="1.2"/>
<text transform="translate(64.45 530.6) scale(1.07 1)" font-size="10.2" font-weight="bold" text-anchor="middle" >0</text>
<path d="M90.75 514.9v2.6" stroke="#000" stroke-width="1.2"/>
<path d="M117.05 514.9v4.5" stroke="#000" stroke-width="1.2"/>
<text transform="translate(117.05 530.6) scale(1.07 1)" font-size="10.2" font-weight="bold" text-anchor="middle" >200</text>
<path d="M143.35 514.9v2.6" stroke="#000" stroke-width="1.2"/>
<path d="M169.65 514.9v4.5" stroke="#000" stroke-width="1.2"/>
<text transform="translate(169.65 530.6) scale(1.07 1)" font-size="10.2" font-weight="bold" text-anchor="middle" >400</text>
<path d="M195.95 514.9v2.6" stroke="#000" stroke-width="1.2"/>
<path d="M222.25 514.9v4.5" stroke="#000" stroke-width="1.2"/>
<text transform="translate(222.25 530.6) scale(1.07 1)" font-size="10.2" font-weight="bold" text-anchor="middle" >600</text>
<path d="M248.55 514.9v2.6" stroke="#000" stroke-width="1.2"/>
<path d="M274.85 514.9v4.5" stroke="#000" stroke-width="1.2"/>
<text transform="translate(274.85 530.6) scale(1.07 1)" font-size="10.2" font-weight="bold" text-anchor="middle" >800</text>
<path d="M301.15 514.9v2.6" stroke="#000" stroke-width="1.2"/>
<path d="M327.45 514.9v4.5" stroke="#000" stroke-width="1.2"/>
<text transform="translate(327.45 530.6) scale(1.07 1)" font-size="10.2" font-weight="bold" text-anchor="middle" >1000</text>
<text x="196" y="550.4" font-size="11.8" font-weight="bold" text-anchor="middle" >Length (nm)</text>
<text transform="translate(17.4 405) rotate(-90)" font-size="12" font-weight="bold" text-anchor="middle" >Probability density</text>
<path d="M138.5 310.8H163.6" stroke="#000" stroke-width="1.7"/>
<circle cx="151.1" cy="324.7" r="2.4" fill="none" stroke="#f00" stroke-width="1.1" stroke-opacity="0.85"/>
<text x="166.6" y="313.8" font-size="9.8" font-weight="bold" >Model length distribution</text>
<text x="166.6" y="328.1" font-size="9.8" font-weight="bold" >Reconstructed length distribution</text>
<polyline points="65.5,806.5 68.1,806.4 70.8,806.1 73.4,805.8 76.0,805.5 78.7,805.0 81.3,804.5 83.9,803.9 86.6,803.1 89.2,802.3 91.8,801.3 94.5,800.3 97.1,799.0 99.7,797.7 102.4,796.2 105.0,794.7 107.6,792.9 110.3,791.1 112.9,789.2 115.5,787.1 118.2,784.9 120.8,782.7 123.4,780.3 126.1,777.9 128.7,775.4 131.3,772.8 134.0,770.1 136.6,767.4 139.2,764.7 141.9,761.9 144.5,759.1 147.1,756.2 149.8,753.3 152.4,750.4 155.0,747.5 157.7,744.5 160.3,741.6 162.9,738.7 165.6,735.7 168.2,732.8 170.8,729.8 173.5,726.9 176.1,724.0 178.7,721.2 181.4,718.3 184.0,715.5 186.6,712.7 189.3,709.9 191.9,707.2 194.5,704.5 197.2,701.9 199.8,699.3 202.4,696.8 205.1,694.2 207.7,691.8 210.3,689.4 213.0,687.0 215.6,684.7 218.2,682.4 220.9,680.2 223.5,678.0 226.1,675.9 228.8,673.8 231.4,671.8 234.0,669.8 236.7,667.9 239.3,666.0 241.9,664.2 244.6,662.4 247.2,660.6 249.8,658.9 252.5,657.2 255.1,655.5 257.7,653.9 260.4,652.3 263.0,650.7 265.6,649.1 268.3,647.5 270.9,646.0 273.5,644.5 276.2,642.9 278.8,641.4 281.4,639.9 284.1,638.4 286.7,637.0 289.3,635.5 292.0,634.1 294.6,632.6 297.2,631.2 299.9,629.9 302.5,628.6 305.1,627.3 307.8,626.0 310.4,624.8 313.0,623.7 315.7,622.7 318.3,621.7 320.9,620.8 323.6,620.1 326.2,619.4 328.9,618.9" fill="none" stroke="#000" stroke-width="1.45"/>
<rect x="65.5" y="594.3" width="263.35" height="212.20" fill="none" stroke="#000" stroke-width="1.5"/>
<path d="M65.5 806.50h-5" stroke="#000" stroke-width="1.2"/>
<text transform="translate(58.2 810.00) scale(1.07 1)" font-size="10.2" font-weight="bold" text-anchor="end" >0.0</text>
<path d="M65.5 793.24h-2.8" stroke="#000" stroke-width="1.2"/>
<path d="M65.5 779.98h-5" stroke="#000" stroke-width="1.2"/>
<text transform="translate(58.2 783.48) scale(1.07 1)" font-size="10.2" font-weight="bold" text-anchor="end" >0.2</text>
<path d="M65.5 766.71h-2.8" stroke="#000" stroke-width="1.2"/>
<path d="M65.5 753.45h-5" stroke="#000" stroke-width="1.2"/>
<text transform="translate(58.2 756.95) scale(1.07 1)" font-size="10.2" font-weight="bold" text-anchor="end" >0.4</text>
<path d="M65.5 740.19h-2.8" stroke="#000" stroke-width="1.2"/>
<path d="M65.5 726.92h-5" stroke="#000" stroke-width="1.2"/>
<text transform="translate(58.2 730.42) scale(1.07 1)" font-size="10.2" font-weight="bold" text-anchor="end" >0.6</text>
<path d="M65.5 713.66h-2.8" stroke="#000" stroke-width="1.2"/>
<path d="M65.5 700.40h-5" stroke="#000" stroke-width="1.2"/>
<text transform="translate(58.2 703.90) scale(1.07 1)" font-size="10.2" font-weight="bold" text-anchor="end" >0.8</text>
<path d="M65.5 687.14h-2.8" stroke="#000" stroke-width="1.2"/>
<path d="M65.5 673.88h-5" stroke="#000" stroke-width="1.2"/>
<text transform="translate(58.2 677.38) scale(1.07 1)" font-size="10.2" font-weight="bold" text-anchor="end" >1.0</text>
<path d="M65.5 660.61h-2.8" stroke="#000" stroke-width="1.2"/>
<path d="M65.5 647.35h-5" stroke="#000" stroke-width="1.2"/>
<text transform="translate(58.2 650.85) scale(1.07 1)" font-size="10.2" font-weight="bold" text-anchor="end" >1.2</text>
<path d="M65.5 634.09h-2.8" stroke="#000" stroke-width="1.2"/>
<path d="M65.5 620.82h-5" stroke="#000" stroke-width="1.2"/>
<text transform="translate(58.2 624.32) scale(1.07 1)" font-size="10.2" font-weight="bold" text-anchor="end" >1.4</text>
<path d="M65.5 607.56h-2.8" stroke="#000" stroke-width="1.2"/>
<path d="M65.5 594.30h-5" stroke="#000" stroke-width="1.2"/>
<text transform="translate(58.2 597.80) scale(1.07 1)" font-size="10.2" font-weight="bold" text-anchor="end" >1.6</text>
<path d="M65.50 806.5v4.5" stroke="#000" stroke-width="1.2"/>
<text transform="translate(65.50 821.8) scale(1.07 1)" font-size="10.2" font-weight="bold" text-anchor="middle" >0</text>
<path d="M91.84 806.5v2.6" stroke="#000" stroke-width="1.2"/>
<path d="M118.17 806.5v4.5" stroke="#000" stroke-width="1.2"/>
<text transform="translate(118.17 821.8) scale(1.07 1)" font-size="10.2" font-weight="bold" text-anchor="middle" >2</text>
<path d="M144.50 806.5v2.6" stroke="#000" stroke-width="1.2"/>
<path d="M170.84 806.5v4.5" stroke="#000" stroke-width="1.2"/>
<text transform="translate(170.84 821.8) scale(1.07 1)" font-size="10.2" font-weight="bold" text-anchor="middle" >4</text>
<path d="M197.18 806.5v2.6" stroke="#000" stroke-width="1.2"/>
<path d="M223.51 806.5v4.5" stroke="#000" stroke-width="1.2"/>
<text transform="translate(223.51 821.8) scale(1.07 1)" font-size="10.2" font-weight="bold" text-anchor="middle" >6</text>
<path d="M249.84 806.5v2.6" stroke="#000" stroke-width="1.2"/>
<path d="M276.18 806.5v4.5" stroke="#000" stroke-width="1.2"/>
<text transform="translate(276.18 821.8) scale(1.07 1)" font-size="10.2" font-weight="bold" text-anchor="middle" >8</text>
<path d="M302.51 806.5v2.6" stroke="#000" stroke-width="1.2"/>
<path d="M328.85 806.5v4.5" stroke="#000" stroke-width="1.2"/>
<text transform="translate(328.85 821.8) scale(1.07 1)" font-size="10.2" font-weight="bold" text-anchor="middle" >10</text>
<text x="196.7" y="841.4" font-size="11.9" font-weight="bold" text-anchor="middle" >Electric field (kV/cm)</text>
<text transform="translate(30.8 692.5) rotate(-90)" font-size="11.9" font-weight="bold" text-anchor="middle" >Differential absorption <tspan font-weight="normal">Δ</tspan>A</text>
</svg>
</body></html>
